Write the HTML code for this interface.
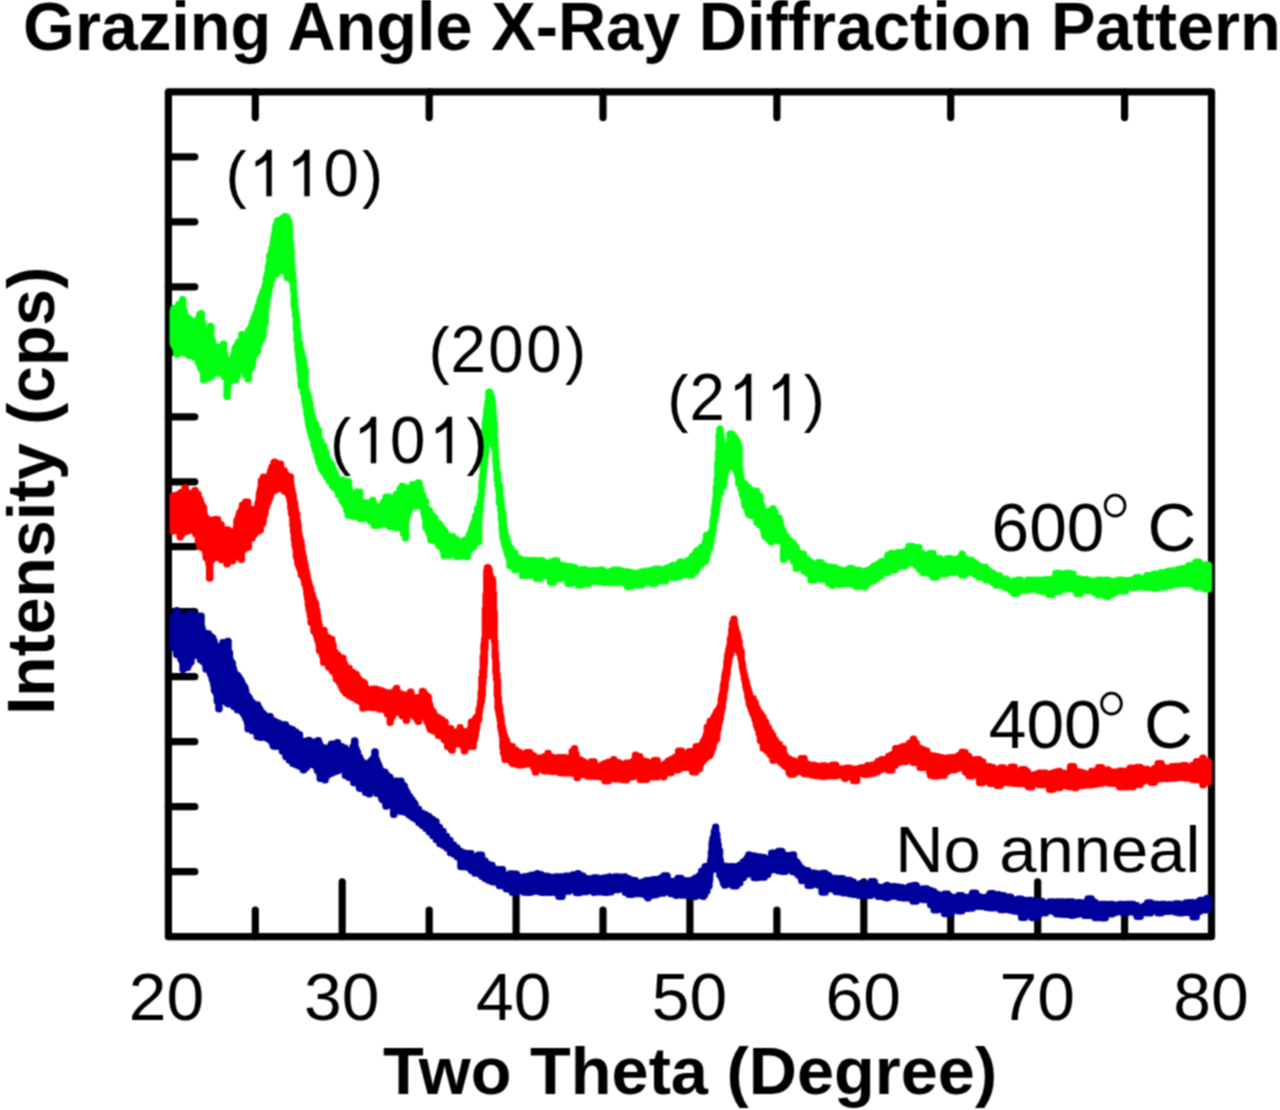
<!DOCTYPE html>
<html><head><meta charset="utf-8">
<style>
html,body{margin:0;padding:0;background:#fff;}
body{width:1280px;height:1110px;overflow:hidden;}
svg{display:block;}
text{font-family:"Liberation Sans",sans-serif;fill:#000;}
</style></head><body>
<svg width="1280" height="1110" viewBox="0 0 1280 1110">
<defs><filter id="bl" x="0" y="0" width="1" height="1" color-interpolation-filters="sRGB"><feConvolveMatrix order="3" kernelMatrix="1 2 1 2 4 2 1 2 1" divisor="16" edgeMode="duplicate"/></filter></defs>
<rect width="1280" height="1110" fill="#fff"/>
<g filter="url(#bl)">
<rect width="1280" height="1110" fill="#fff"/>
<g stroke="#000" stroke-width="7.2" fill="none"><path d="M168.4,91.8H1211.5V936.7H168.4Z" stroke-linejoin="round"/></g><g stroke="#000" stroke-width="7.2" fill="none" stroke-linecap="round"><path d="M168.4,156.8H194.8M168.4,221.8H194.8M168.4,286.8H194.8M168.4,351.8H194.8M168.4,416.8H194.8M168.4,481.8H194.8M168.4,546.7H194.8M168.4,611.7H194.8M168.4,676.7H194.8M168.4,741.7H194.8M168.4,806.7H194.8M168.4,871.7H194.8M255.3,936.7V910.2M255.3,91.8V117.6M342.2,936.7V881.8M429.2,936.7V910.2M429.2,91.8V117.6M516.1,936.7V881.8M603.0,936.7V910.2M603.0,91.8V117.6M689.9,936.7V881.8M776.9,936.7V910.2M776.9,91.8V117.6M863.8,936.7V881.8M950.7,936.7V910.2M950.7,91.8V117.6M1037.7,936.7V881.8M1124.6,936.7V910.2M1124.6,91.8V117.6"/></g><path d="M173.0,617.3 176.5,617.3 176.5,610.6 177.2,610.6 177.2,616.4 177.9,616.4 177.9,615.2 178.6,615.2 178.6,617.5 179.3,617.5 179.3,618.9 180.0,618.9 180.0,619.7 180.7,619.7 180.7,618.6 181.4,618.6 181.4,617.4 182.1,617.4 182.1,617.9 182.8,617.9 182.8,616.6 183.5,616.6 183.5,616.9 184.2,616.9 184.2,620.8 184.9,620.8 184.9,623.2 185.6,623.2 185.6,624.9 186.3,624.9 186.3,620.4 187.0,620.4 187.0,623.9 187.7,623.9 187.7,617.8 188.4,617.8 188.4,619.3 189.1,619.3 189.1,616.8 189.8,616.8 189.8,613.0 190.5,613.0 190.5,616.0 191.2,616.0 191.2,615.3 191.9,615.3 191.9,614.2 192.3,614.2 192.3,614.9 192.6,614.9 192.6,614.9 193.3,614.9 193.3,615.3 194.0,615.3 194.0,618.4 194.7,618.4 194.7,616.3 195.4,616.3 195.4,618.9 196.1,618.9 196.1,616.0 196.8,616.0 196.8,616.0 197.5,616.0 197.5,616.0 198.2,616.0 198.2,616.0 198.9,616.0 198.9,619.1 199.6,619.1 199.6,620.7 200.3,620.7 200.3,625.1 201.0,625.1 201.0,616.0 201.3,616.0 201.3,625.9 201.7,625.9 201.7,628.8 202.4,628.8 202.4,631.3 203.1,631.3 203.1,633.0 203.8,633.0 203.8,632.9 204.5,632.9 204.5,633.1 205.2,633.1 205.2,633.4 205.9,633.4 205.9,633.3 206.6,633.3 206.6,636.1 207.3,636.1 207.3,634.8 208.0,634.8 208.0,633.7 208.7,633.7 208.7,634.8 209.4,634.8 209.4,635.9 210.1,635.9 210.1,638.6 210.8,638.6 210.8,639.4 211.5,639.4 211.5,637.2 212.2,637.2 212.2,637.7 212.9,637.7 212.9,640.0 213.6,640.0 213.6,641.2 214.3,641.2 214.3,646.5 215.0,646.5 215.0,645.8 215.7,645.8 215.7,646.0 216.4,646.0 216.4,649.0 217.1,649.0 217.1,653.2 217.8,653.2 217.8,648.7 218.5,648.7 218.5,648.5 219.2,648.5 219.2,651.2 219.9,651.2 219.9,650.3 220.6,650.3 220.6,649.0 221.3,649.0 221.3,647.2 222.0,647.2 222.0,646.5 222.7,646.5 222.7,642.4 223.4,642.4 223.4,648.8 224.1,648.8 224.1,644.5 224.8,644.5 224.8,644.2 225.5,644.2 225.5,642.4 226.2,642.4 226.2,646.1 226.9,646.1 226.9,651.8 227.6,651.8 227.6,653.5 227.7,653.5 227.7,641.2 228.3,641.2 228.3,657.3 229.0,657.3 229.0,652.7 229.7,652.7 229.7,659.8 230.4,659.8 230.4,662.0 231.1,662.0 231.1,663.5 231.8,663.5 231.8,663.1 232.5,663.1 232.5,667.6 233.2,667.6 233.2,669.8 233.9,669.8 233.9,672.4 234.6,672.4 234.6,674.7 235.3,674.7 235.3,674.9 236.0,674.9 236.0,674.8 236.7,674.8 236.7,675.1 237.4,675.1 237.4,676.2 238.1,676.2 238.1,676.7 238.8,676.7 238.8,679.1 239.5,679.1 239.5,679.1 240.2,679.1 240.2,680.0 240.9,680.0 240.9,681.6 241.6,681.6 241.6,683.2 242.3,683.2 242.3,687.1 243.0,687.1 243.0,685.5 243.7,685.5 243.7,687.6 244.4,687.6 244.4,687.6 245.1,687.6 245.1,690.6 245.8,690.6 245.8,694.5 246.5,694.5 246.5,695.2 247.2,695.2 247.2,695.7 247.9,695.7 247.9,699.4 248.6,699.4 248.6,697.8 249.3,697.8 249.3,699.3 250.0,699.3 250.0,700.7 250.7,700.7 250.7,702.4 251.4,702.4 251.4,702.2 252.1,702.2 252.1,703.1 252.8,703.1 252.8,708.0 256.3,708.0 256.3,705.0 257.0,705.0 257.0,704.7 257.7,704.7 257.7,706.4 258.4,706.4 258.4,708.0 259.1,708.0 259.1,709.1 259.8,709.1 259.8,710.2 260.5,710.2 260.5,712.1 261.2,712.1 261.2,713.0 261.9,713.0 261.9,713.0 262.6,713.0 262.6,713.4 263.3,713.4 263.3,714.3 264.0,714.3 264.0,715.3 264.7,715.3 264.7,716.8 265.4,716.8 265.4,716.0 266.1,716.0 266.1,717.9 266.8,717.9 266.8,719.7 267.5,719.7 267.5,717.5 268.2,717.5 268.2,719.8 268.9,719.8 268.9,718.6 269.6,718.6 269.6,716.6 270.3,716.6 270.3,721.5 271.0,721.5 271.0,721.8 271.7,721.8 271.7,720.3 272.4,720.3 272.4,720.7 273.1,720.7 273.1,720.9 273.8,720.9 273.8,722.7 274.5,722.7 274.5,721.6 275.2,721.6 275.2,723.0 278.7,723.0 278.7,726.6 282.2,726.6 282.2,724.7 285.7,724.7 285.7,728.3 289.2,728.3 289.2,729.4 292.7,729.4 292.7,732.1 296.2,732.1 296.2,734.5 299.7,734.5 299.7,741.2 303.2,741.2 303.2,745.5 303.9,745.5 303.9,743.2 304.6,743.2 304.6,744.3 305.3,744.3 305.3,742.2 306.0,742.2 306.0,742.5 306.7,742.5 306.7,743.8 307.4,743.8 307.4,740.4 308.1,740.4 308.1,741.4 308.8,741.4 308.8,740.3 309.3,740.3 309.3,741.1 309.5,741.1 309.5,742.0 310.2,742.0 310.2,742.1 310.9,742.1 310.9,742.0 314.4,742.0 314.4,742.6 315.1,742.6 315.1,743.4 315.8,743.4 315.8,742.9 316.5,742.9 316.5,742.5 317.2,742.5 317.2,742.1 317.9,742.1 317.9,740.6 318.3,740.6 318.3,740.6 318.6,740.6 318.6,742.8 319.3,742.8 319.3,745.1 320.0,745.1 320.0,745.7 320.7,745.7 320.7,747.8 324.2,747.8 324.2,748.4 327.7,748.4 327.7,748.0 331.2,748.0 331.2,744.0 334.7,744.0 334.7,745.7 337.2,745.7 337.2,742.4 337.8,742.4 337.8,745.7 338.2,745.7 338.2,746.5 341.7,746.5 341.7,748.1 345.2,748.1 345.2,753.3 348.7,753.3 348.7,752.7 352.2,752.7 352.2,748.9 352.9,748.9 352.9,746.6 353.6,746.6 353.6,746.0 354.3,746.0 354.3,746.9 354.4,746.9 354.4,740.8 355.0,740.8 355.0,748.5 355.7,748.5 355.7,748.9 356.4,748.9 356.4,753.7 357.1,753.7 357.1,752.4 357.8,752.4 357.8,757.9 358.5,757.9 358.5,756.8 359.2,756.8 359.2,757.3 359.9,757.3 359.9,759.9 360.6,759.9 360.6,761.3 361.3,761.3 361.3,761.2 362.0,761.2 362.0,765.6 362.7,765.6 362.7,769.0 363.4,769.0 363.4,767.7 364.1,767.7 364.1,767.0 364.8,767.0 364.8,767.2 365.5,767.2 365.5,765.6 366.2,765.6 366.2,765.2 366.9,765.2 366.9,766.8 367.6,766.8 367.6,763.2 368.3,763.2 368.3,763.1 369.0,763.1 369.0,765.8 369.7,765.8 369.7,762.9 370.4,762.9 370.4,762.9 371.1,762.9 371.1,760.4 371.8,760.4 371.8,760.4 372.5,760.4 372.5,760.8 373.2,760.8 373.2,758.6 373.9,758.6 373.9,757.4 374.6,757.4 374.6,756.2 374.7,756.2 374.7,751.8 375.3,751.8 375.3,759.7 376.0,759.7 376.0,759.7 376.7,759.7 376.7,763.0 377.4,763.0 377.4,763.2 378.1,763.2 378.1,765.5 378.8,765.5 378.8,766.7 379.5,766.7 379.5,769.3 380.2,769.3 380.2,770.1 380.9,770.1 380.9,772.8 381.6,772.8 381.6,773.4 382.3,773.4 382.3,773.9 383.0,773.9 383.0,774.8 383.7,774.8 383.7,774.6 384.4,774.6 384.4,772.0 385.1,772.0 385.1,776.4 385.8,776.4 385.8,774.5 386.5,774.5 386.5,777.0 390.0,777.0 390.0,782.6 393.5,782.6 393.5,780.9 397.0,780.9 397.0,782.5 400.5,782.5 400.5,781.0 401.2,781.0 401.2,785.8 401.9,785.8 401.9,784.9 402.6,784.9 402.6,785.5 403.3,785.5 403.3,785.5 404.0,785.5 404.0,786.5 404.7,786.5 404.7,790.3 405.4,790.3 405.4,790.4 406.1,790.4 406.1,794.0 406.8,794.0 406.8,793.0 407.5,793.0 407.5,795.4 408.2,795.4 408.2,795.9 408.9,795.9 408.9,796.3 409.6,796.3 409.6,797.4 410.3,797.4 410.3,800.5 411.0,800.5 411.0,800.2 411.7,800.2 411.7,800.1 412.4,800.1 412.4,802.2 413.1,802.2 413.1,803.7 413.8,803.7 413.8,803.0 414.5,803.0 414.5,803.9 415.2,803.9 415.2,808.9 418.7,808.9 418.7,813.1 422.2,813.1 422.2,814.6 425.7,814.6 425.7,816.5 429.2,816.5 429.2,819.3 432.7,819.3 432.7,821.6 436.2,821.6 436.2,827.3 439.7,827.3 439.7,831.3 443.2,831.3 443.2,836.2 446.7,836.2 446.7,840.3 450.2,840.3 450.2,844.7 453.7,844.7 453.7,847.8 457.2,847.8 457.2,851.3 460.7,851.3 460.7,852.8 464.2,852.8 464.2,854.9 467.7,854.9 467.7,853.4 471.2,853.4 471.2,860.1 474.7,860.1 474.7,858.8 478.2,858.8 478.2,854.9 481.7,854.9 481.7,860.7 485.2,860.7 485.2,864.3 488.7,864.3 488.7,865.2 492.2,865.2 492.2,869.0 495.7,869.0 495.7,870.3 499.2,870.3 499.2,869.4 502.7,869.4 502.7,875.5 506.2,875.5 506.2,876.9 509.7,876.9 509.7,873.8 513.2,873.8 513.2,874.1 516.7,874.1 516.7,878.7 520.2,878.7 520.2,877.3 523.7,877.3 523.7,876.8 527.2,876.8 527.2,876.2 530.7,876.2 530.7,875.3 534.2,875.3 534.2,874.8 537.2,874.8 537.2,873.6 537.7,873.6 537.7,874.6 541.2,874.6 541.2,875.9 544.7,875.9 544.7,876.3 548.2,876.3 548.2,877.3 551.7,877.3 551.7,879.5 555.2,879.5 555.2,876.8 558.7,876.8 558.7,876.8 562.2,876.8 562.2,876.8 565.7,876.8 565.7,876.1 569.2,876.1 569.2,876.3 572.7,876.3 572.7,874.7 576.2,874.7 576.2,874.6 577.7,874.6 577.7,873.6 578.3,873.6 578.3,874.6 579.7,874.6 579.7,875.9 583.2,875.9 583.2,878.5 586.7,878.5 586.7,878.7 590.2,878.7 590.2,881.8 593.7,881.8 593.7,877.8 597.2,877.8 597.2,880.9 600.7,880.9 600.7,878.6 604.2,878.6 604.2,877.8 607.7,877.8 607.7,881.5 609.1,881.5 609.1,876.8 609.7,876.8 609.7,881.5 611.2,881.5 611.2,880.3 614.7,880.3 614.7,876.8 618.2,876.8 618.2,879.7 621.7,879.7 621.7,877.0 624.7,877.0 624.7,876.8 625.2,876.8 625.2,878.6 628.7,878.6 628.7,879.9 632.2,879.9 632.2,880.6 635.7,880.6 635.7,883.8 639.2,883.8 639.2,883.3 642.7,883.3 642.7,881.7 646.2,881.7 646.2,880.5 649.7,880.5 649.7,880.2 653.2,880.2 653.2,879.6 656.7,879.6 656.7,879.9 660.2,879.9 660.2,878.3 661.9,878.3 661.9,878.0 662.5,878.0 662.5,878.3 663.7,878.3 663.7,875.8 667.2,875.8 667.2,880.9 670.7,880.9 670.7,881.5 674.2,881.5 674.2,881.6 677.7,881.6 677.7,878.2 681.2,878.2 681.2,880.5 684.7,880.5 684.7,880.8 688.2,880.8 688.2,881.2 691.7,881.2 691.7,880.0 695.2,880.0 695.2,878.1 698.7,878.1 698.7,876.0 699.4,876.0 699.4,876.4 700.1,876.4 700.1,875.2 700.8,875.2 700.8,875.2 701.5,875.2 701.5,870.9 702.2,870.9 702.2,873.7 702.9,873.7 702.9,872.7 703.6,872.7 703.6,870.8 704.3,870.8 704.3,869.2 705.0,869.2 705.0,866.6 705.7,866.6 705.7,867.2 706.4,867.2 706.4,866.6 707.1,866.6 707.1,866.2 707.8,866.2 707.8,865.9 708.5,865.9 708.5,865.7 709.2,865.7 709.2,865.1 709.9,865.1 709.9,864.6 710.6,864.6 710.6,859.5 711.3,859.5 711.3,851.5 712.0,851.5 712.0,842.6 712.7,842.6 712.7,838.6 713.4,838.6 713.4,837.0 714.1,837.0 714.1,831.7 714.8,831.7 714.8,830.2 715.5,830.2 715.5,827.0 715.8,827.0 715.8,832.5 716.2,832.5 716.2,834.3 716.9,834.3 716.9,840.1 717.6,840.1 717.6,844.2 718.3,844.2 718.3,850.8 719.0,850.8 719.0,850.4 719.7,850.4 719.7,859.9 720.4,859.9 720.4,864.5 721.1,864.5 721.1,865.2 721.8,865.2 721.8,865.6 722.5,865.6 722.5,865.7 723.2,865.7 723.2,865.9 723.9,865.9 723.9,866.4 724.6,866.4 724.6,866.0 725.3,866.0 725.3,866.4 726.0,866.4 726.0,867.7 729.5,867.7 729.5,866.4 733.0,866.4 733.0,867.1 736.5,867.1 736.5,866.6 740.0,866.6 740.0,864.8 743.5,864.8 743.5,861.4 747.0,861.4 747.0,857.9 748.7,857.9 748.7,854.7 749.3,854.7 749.3,857.9 750.5,857.9 750.5,855.7 754.0,855.7 754.0,856.4 757.5,856.4 757.5,857.0 761.0,857.0 761.0,857.6 764.5,857.6 764.5,859.0 768.0,859.0 768.0,859.1 771.5,859.1 771.5,853.0 775.0,853.0 775.0,857.2 778.5,857.2 778.5,851.3 782.0,851.3 782.0,856.7 783.7,856.7 783.7,854.7 784.3,854.7 784.3,856.7 785.5,856.7 785.5,855.5 789.0,855.5 789.0,857.3 792.5,857.3 792.5,854.7 793.2,854.7 793.2,854.7 793.7,854.7 793.7,858.3 793.9,858.3 793.9,859.7 794.6,859.7 794.6,860.7 795.3,860.7 795.3,861.3 796.0,861.3 796.0,861.8 796.7,861.8 796.7,862.6 797.4,862.6 797.4,864.3 798.1,864.3 798.1,864.8 798.8,864.8 798.8,866.7 799.5,866.7 799.5,867.0 800.2,867.0 800.2,867.6 800.9,867.6 800.9,868.5 801.6,868.5 801.6,869.2 802.3,869.2 802.3,869.0 803.0,869.0 803.0,870.2 803.7,870.2 803.7,870.3 804.4,870.3 804.4,870.6 807.9,870.6 807.9,873.6 811.4,873.6 811.4,873.0 814.9,873.0 814.9,873.7 818.4,873.7 818.4,876.4 821.9,876.4 821.9,873.2 825.4,873.2 825.4,875.4 828.9,875.4 828.9,879.2 832.4,879.2 832.4,878.2 835.9,878.2 835.9,879.1 839.4,879.1 839.4,878.4 842.9,878.4 842.9,881.6 846.4,881.6 846.4,880.3 849.9,880.3 849.9,881.8 853.4,881.8 853.4,884.5 856.9,884.5 856.9,884.7 860.4,884.7 860.4,883.6 863.9,883.6 863.9,884.5 867.4,884.5 867.4,886.2 870.9,886.2 870.9,881.6 874.4,881.6 874.4,886.6 877.9,886.6 877.9,887.5 881.4,887.5 881.4,887.4 884.9,887.4 884.9,886.2 886.9,886.2 886.9,885.2 887.5,885.2 887.5,886.2 888.4,886.2 888.4,887.4 891.9,887.4 891.9,886.5 895.4,886.5 895.4,887.1 898.9,887.1 898.9,887.5 902.4,887.5 902.4,888.2 905.9,888.2 905.9,888.5 909.4,888.5 909.4,886.2 912.9,886.2 912.9,885.6 915.0,885.6 915.0,885.2 915.6,885.2 915.6,885.6 916.4,885.6 916.4,888.9 919.9,888.9 919.9,890.5 923.4,890.5 923.4,888.8 926.9,888.8 926.9,890.3 930.4,890.3 930.4,891.4 933.9,891.4 933.9,894.0 937.4,894.0 937.4,895.3 940.9,895.3 940.9,895.8 944.4,895.8 944.4,894.1 947.9,894.1 947.9,896.7 951.4,896.7 951.4,897.6 954.9,897.6 954.9,897.4 958.4,897.4 958.4,895.6 961.9,895.6 961.9,897.3 965.4,897.3 965.4,897.2 968.9,897.2 968.9,899.9 972.4,899.9 972.4,893.0 975.9,893.0 975.9,896.6 979.4,896.6 979.4,898.4 982.9,898.4 982.9,897.4 986.4,897.4 986.4,896.9 989.9,896.9 989.9,893.5 993.4,893.5 993.4,896.6 996.9,896.6 996.9,897.5 998.2,897.5 998.2,894.4 998.8,894.4 998.8,897.5 1000.4,897.5 1000.4,895.6 1003.9,895.6 1003.9,897.0 1007.4,897.0 1007.4,896.9 1010.9,896.9 1010.9,901.4 1014.4,901.4 1014.4,900.1 1017.9,900.1 1017.9,899.1 1021.4,899.1 1021.4,900.3 1024.9,900.3 1024.9,900.9 1028.4,900.9 1028.4,900.2 1031.9,900.2 1031.9,904.1 1035.4,904.1 1035.4,901.5 1038.9,901.5 1038.9,901.2 1042.4,901.2 1042.4,903.5 1045.9,903.5 1045.9,903.8 1049.4,903.8 1049.4,901.8 1052.9,901.8 1052.9,903.3 1056.4,903.3 1056.4,901.8 1059.9,901.8 1059.9,901.8 1063.4,901.8 1063.4,902.2 1066.9,902.2 1066.9,901.8 1070.4,901.8 1070.4,903.2 1072.0,903.2 1072.0,901.8 1072.6,901.8 1072.6,903.2 1073.9,903.2 1073.9,903.3 1077.4,903.3 1077.4,902.6 1080.9,902.6 1080.9,902.9 1084.4,902.9 1084.4,904.5 1087.9,904.5 1087.9,898.8 1091.4,898.8 1091.4,902.0 1094.9,902.0 1094.9,904.2 1098.4,904.2 1098.4,904.2 1101.9,904.2 1101.9,904.2 1105.4,904.2 1105.4,905.2 1108.9,905.2 1108.9,904.2 1112.4,904.2 1112.4,905.1 1115.9,905.1 1115.9,905.8 1119.4,905.8 1119.4,904.2 1122.9,904.2 1122.9,907.8 1126.4,907.8 1126.4,904.2 1129.9,904.2 1129.9,904.2 1133.4,904.2 1133.4,905.6 1136.9,905.6 1136.9,908.0 1140.4,908.0 1140.4,908.6 1143.9,908.6 1143.9,905.9 1147.4,905.9 1147.4,902.7 1150.9,902.7 1150.9,905.1 1154.4,905.1 1154.4,904.2 1157.9,904.2 1157.9,906.0 1161.4,906.0 1161.4,904.2 1164.9,904.2 1164.9,904.7 1168.4,904.7 1168.4,904.5 1171.9,904.5 1171.9,906.3 1175.4,906.3 1175.4,903.7 1178.9,903.7 1178.9,905.9 1182.4,905.9 1182.4,904.2 1185.9,904.2 1185.9,902.8 1189.4,902.8 1189.4,902.4 1192.9,902.4 1192.9,904.9 1196.4,904.9 1196.4,902.5 1199.9,902.5 1199.9,900.2 1203.4,900.2 1203.4,901.9 1206.9,901.9 1206.9,898.3 1208.5,898.3 1208.5,908.0 1206.9,908.0 1206.9,910.1 1203.4,910.1 1203.4,909.8 1199.9,909.8 1199.9,911.6 1196.4,911.6 1196.4,917.0 1195.6,917.0 1195.6,917.0 1195.0,917.0 1195.0,917.0 1192.9,917.0 1192.9,908.1 1189.4,908.1 1189.4,912.5 1185.9,912.5 1185.9,911.2 1182.4,911.2 1182.4,913.0 1178.9,913.0 1178.9,912.2 1175.4,912.2 1175.4,910.7 1171.9,910.7 1171.9,911.3 1168.4,911.3 1168.4,911.4 1164.9,911.4 1164.9,908.6 1161.4,908.6 1161.4,913.0 1157.9,913.0 1157.9,909.8 1154.4,909.8 1154.4,910.5 1150.9,910.5 1150.9,912.9 1147.4,912.9 1147.4,912.7 1143.9,912.7 1143.9,911.9 1140.4,911.9 1140.4,916.5 1136.9,916.5 1136.9,912.2 1133.4,912.2 1133.4,911.9 1129.9,911.9 1129.9,909.7 1126.4,909.7 1126.4,913.0 1122.9,913.0 1122.9,910.4 1119.4,910.4 1119.4,911.8 1115.9,911.8 1115.9,912.6 1112.4,912.6 1112.4,913.9 1108.9,913.9 1108.9,913.0 1105.4,913.0 1105.4,918.0 1101.9,918.0 1101.9,914.1 1098.4,914.1 1098.4,917.8 1097.2,917.8 1097.2,917.8 1096.6,917.8 1096.6,917.8 1094.9,917.8 1094.9,912.8 1091.4,912.8 1091.4,915.4 1087.9,915.4 1087.9,915.4 1084.4,915.4 1084.4,913.7 1080.9,913.7 1080.9,912.6 1077.4,912.6 1077.4,914.6 1073.9,914.6 1073.9,915.2 1072.6,915.2 1072.6,915.4 1072.0,915.4 1072.0,915.2 1070.4,915.2 1070.4,913.4 1066.9,913.4 1066.9,914.5 1063.4,914.5 1063.4,914.2 1059.9,914.2 1059.9,913.9 1056.4,913.9 1056.4,911.6 1052.9,911.6 1052.9,910.4 1049.4,910.4 1049.4,910.5 1045.9,910.5 1045.9,913.0 1042.4,913.0 1042.4,913.0 1038.9,913.0 1038.9,915.1 1035.4,915.1 1035.4,917.8 1031.9,917.8 1031.9,911.6 1028.4,911.6 1028.4,909.0 1024.9,909.0 1024.9,917.5 1023.3,917.5 1023.3,917.5 1022.7,917.5 1022.7,917.5 1021.4,917.5 1021.4,911.6 1017.9,911.6 1017.9,911.2 1014.4,911.2 1014.4,910.5 1010.9,910.5 1010.9,909.8 1007.4,909.8 1007.4,906.5 1003.9,906.5 1003.9,909.7 1000.4,909.7 1000.4,908.0 996.9,908.0 996.9,907.0 993.4,907.0 993.4,908.0 989.9,908.0 989.9,907.5 986.4,907.5 986.4,906.2 982.9,906.2 982.9,906.4 979.4,906.4 979.4,904.2 975.9,904.2 975.9,906.6 972.4,906.6 972.4,908.2 968.9,908.2 968.9,908.5 965.4,908.5 965.4,904.9 961.9,904.9 961.9,911.0 958.4,911.0 958.4,909.6 954.9,909.6 954.9,910.0 951.4,910.0 951.4,913.2 949.5,913.2 949.5,913.2 948.9,913.2 948.9,913.2 947.9,913.2 947.9,913.8 944.4,913.8 944.4,907.9 940.9,907.9 940.9,909.5 937.4,909.5 937.4,910.0 933.9,910.0 933.9,904.7 930.4,904.7 930.4,899.2 926.9,899.2 926.9,899.7 923.4,899.7 923.4,899.1 919.9,899.1 919.9,898.3 916.4,898.3 916.4,901.3 912.9,901.3 912.9,897.4 909.4,897.4 909.4,898.0 905.9,898.0 905.9,898.0 902.4,898.0 902.4,897.4 898.9,897.4 898.9,895.9 895.4,895.9 895.4,896.2 891.9,896.2 891.9,894.7 888.4,894.7 888.4,897.6 887.5,897.6 887.5,898.0 886.9,898.0 886.9,897.6 884.9,897.6 884.9,893.7 881.4,893.7 881.4,896.4 877.9,896.4 877.9,893.2 874.4,893.2 874.4,891.7 870.9,891.7 870.9,895.6 867.4,895.6 867.4,895.6 863.9,895.6 863.9,895.6 860.4,895.6 860.4,894.3 859.3,894.3 859.3,895.6 858.7,895.6 858.7,894.3 856.9,894.3 856.9,894.6 853.4,894.6 853.4,893.9 849.9,893.9 849.9,891.4 846.4,891.4 846.4,892.9 842.9,892.9 842.9,892.0 839.4,892.0 839.4,891.8 835.9,891.8 835.9,889.3 832.4,889.3 832.4,888.4 828.9,888.4 828.9,888.7 825.4,888.7 825.4,892.2 821.9,892.2 821.9,885.3 818.4,885.3 818.4,884.3 814.9,884.3 814.9,881.7 811.4,881.7 811.4,885.6 807.9,885.6 807.9,878.2 804.4,878.2 804.4,877.3 803.7,877.3 803.7,880.3 803.0,880.3 803.0,877.4 802.3,877.4 802.3,880.8 801.6,880.8 801.6,876.8 800.9,876.8 800.9,876.7 800.2,876.7 800.2,874.2 799.5,874.2 799.5,874.8 798.8,874.8 798.8,875.1 798.1,875.1 798.1,873.7 797.4,873.7 797.4,873.0 796.7,873.0 796.7,872.6 796.0,872.6 796.0,872.0 795.3,872.0 795.3,871.1 794.6,871.1 794.6,872.1 793.9,872.1 793.9,871.6 793.2,871.6 793.2,871.7 792.5,871.7 792.5,867.2 789.0,867.2 789.0,869.6 785.5,869.6 785.5,871.6 782.0,871.6 782.0,871.1 778.5,871.1 778.5,869.8 775.0,869.8 775.0,868.7 771.5,868.7 771.5,870.0 768.0,870.0 768.0,874.5 764.5,874.5 764.5,877.2 761.0,877.2 761.0,872.9 760.9,872.9 760.9,874.5 760.3,874.5 760.3,872.9 757.5,872.9 757.5,877.7 754.0,877.7 754.0,873.6 750.5,873.6 750.5,873.8 747.0,873.8 747.0,874.6 743.5,874.6 743.5,877.8 740.0,877.8 740.0,883.1 737.5,883.1 737.5,883.9 736.9,883.9 736.9,883.1 736.5,883.1 736.5,885.9 733.0,885.9 733.0,878.4 729.5,878.4 729.5,883.9 726.0,883.9 726.0,879.2 725.3,879.2 725.3,885.3 724.6,885.3 724.6,880.5 723.9,880.5 723.9,880.9 723.6,880.9 723.6,883.0 723.2,883.0 723.2,879.0 722.5,879.0 722.5,878.7 721.8,878.7 721.8,876.7 721.1,876.7 721.1,871.8 720.4,871.8 720.4,874.9 719.7,874.9 719.7,869.4 719.0,869.4 719.0,869.2 718.3,869.2 718.3,869.0 717.6,869.0 717.6,869.0 716.9,869.0 716.9,867.6 716.2,867.6 716.2,869.0 715.5,869.0 715.5,869.0 714.8,869.0 714.8,868.7 714.1,868.7 714.1,868.2 713.4,868.2 713.4,868.1 712.7,868.1 712.7,869.2 712.0,869.2 712.0,869.1 711.3,869.1 711.3,870.3 710.6,870.3 710.6,871.9 709.9,871.9 709.9,880.1 709.2,880.1 709.2,886.1 708.5,886.1 708.5,885.1 707.8,885.1 707.8,887.6 707.1,887.6 707.1,890.9 706.4,890.9 706.4,890.5 705.7,890.5 705.7,890.7 705.0,890.7 705.0,894.6 704.3,894.6 704.3,890.5 703.6,890.5 703.6,896.4 703.3,896.4 703.3,896.4 702.9,896.4 702.9,891.4 702.2,891.4 702.2,892.0 701.5,892.0 701.5,895.8 700.8,895.8 700.8,891.6 700.1,891.6 700.1,891.0 699.4,891.0 699.4,892.1 698.7,892.1 698.7,891.5 695.2,891.5 695.2,896.8 691.7,896.8 691.7,893.1 688.2,893.1 688.2,891.8 684.7,891.8 684.7,895.3 681.2,895.3 681.2,892.3 677.7,892.3 677.7,892.3 676.5,892.3 676.5,895.6 676.0,895.6 676.0,892.3 674.2,892.3 674.2,893.7 670.7,893.7 670.7,892.0 667.2,892.0 667.2,891.4 663.7,891.4 663.7,893.2 660.2,893.2 660.2,891.7 656.7,891.7 656.7,894.8 653.2,894.8 653.2,895.2 649.7,895.2 649.7,895.8 648.3,895.8 648.3,898.0 647.7,898.0 647.7,895.8 646.2,895.8 646.2,894.3 642.7,894.3 642.7,893.6 639.2,893.6 639.2,893.8 635.7,893.8 635.7,893.1 632.2,893.1 632.2,894.6 628.7,894.6 628.7,892.6 625.2,892.6 625.2,888.8 621.7,888.8 621.7,888.4 618.2,888.4 618.2,889.7 614.7,889.7 614.7,889.8 611.2,889.8 611.2,891.9 607.7,891.9 607.7,892.6 604.2,892.6 604.2,891.2 600.7,891.2 600.7,892.1 597.2,892.1 597.2,892.1 594.0,892.1 594.0,892.6 593.7,892.6 593.7,890.3 590.2,890.3 590.2,890.4 586.7,890.4 586.7,891.7 583.2,891.7 583.2,886.9 579.7,886.9 579.7,892.7 576.2,892.7 576.2,887.2 572.7,887.2 572.7,889.3 569.2,889.3 569.2,891.2 565.7,891.2 565.7,891.5 562.8,891.5 562.8,892.6 562.2,892.6 562.2,891.5 562.2,891.5 562.2,896.6 558.7,896.6 558.7,892.6 555.2,892.6 555.2,890.2 551.7,890.2 551.7,892.6 548.2,892.6 548.2,886.3 544.7,886.3 544.7,892.6 541.2,892.6 541.2,891.3 537.7,891.3 537.7,891.3 534.2,891.3 534.2,890.0 530.7,890.0 530.7,892.6 527.2,892.6 527.2,892.2 523.7,892.2 523.7,890.4 520.2,890.4 520.2,889.8 516.7,889.8 516.7,892.6 513.2,892.6 513.2,889.4 512.8,889.4 512.8,892.6 512.2,892.6 512.2,889.4 509.7,889.4 509.7,888.9 506.2,888.9 506.2,884.3 502.7,884.3 502.7,885.8 499.2,885.8 499.2,881.8 495.7,881.8 495.7,882.0 492.2,882.0 492.2,880.4 488.7,880.4 488.7,878.7 485.2,878.7 485.2,876.5 481.7,876.5 481.7,873.4 478.2,873.4 478.2,873.2 474.7,873.2 474.7,870.6 471.2,870.6 471.2,867.4 467.7,867.4 467.7,865.2 464.2,865.2 464.2,866.7 460.7,866.7 460.7,856.9 457.2,856.9 457.2,854.2 453.7,854.2 453.7,852.7 450.2,852.7 450.2,848.1 446.7,848.1 446.7,845.6 443.2,845.6 443.2,843.7 439.7,843.7 439.7,839.7 436.2,839.7 436.2,835.8 432.7,835.8 432.7,832.1 429.2,832.1 429.2,828.4 425.7,828.4 425.7,825.4 422.2,825.4 422.2,822.8 418.7,822.8 418.7,819.0 415.2,819.0 415.2,818.2 414.5,818.2 414.5,817.8 413.8,817.8 413.8,817.7 413.1,817.7 413.1,816.8 412.4,816.8 412.4,816.7 411.7,816.7 411.7,815.7 411.0,815.7 411.0,815.7 410.3,815.7 410.3,814.1 409.6,814.1 409.6,814.7 408.9,814.7 408.9,813.2 408.2,813.2 408.2,813.3 407.5,813.3 407.5,812.8 406.8,812.8 406.8,811.5 406.1,811.5 406.1,812.5 405.4,812.5 405.4,812.1 404.7,812.1 404.7,811.5 404.0,811.5 404.0,811.4 403.3,811.4 403.3,810.5 402.6,810.5 402.6,811.2 401.9,811.2 401.9,811.0 401.2,811.0 401.2,811.4 400.5,811.4 400.5,808.8 397.0,808.8 397.0,809.7 394.1,809.7 394.1,814.5 393.5,814.5 393.5,805.0 390.0,805.0 390.0,800.9 386.5,800.9 386.5,806.2 385.8,806.2 385.8,798.8 385.1,798.8 385.1,798.1 384.4,798.1 384.4,799.0 383.7,799.0 383.7,800.3 383.0,800.3 383.0,796.5 382.3,796.5 382.3,798.7 381.6,798.7 381.6,795.3 380.9,795.3 380.9,794.8 380.2,794.8 380.2,790.5 379.5,790.5 379.5,792.5 378.8,792.5 378.8,791.9 378.1,791.9 378.1,790.7 377.4,790.7 377.4,793.6 376.7,793.6 376.7,787.5 376.0,787.5 376.0,789.5 375.3,789.5 375.3,789.2 374.6,789.2 374.6,788.0 373.9,788.0 373.9,789.8 373.2,789.8 373.2,790.0 372.5,790.0 372.5,789.3 371.8,789.3 371.8,789.8 371.1,789.8 371.1,789.0 370.4,789.0 370.4,791.0 369.7,791.0 369.7,793.9 369.0,793.9 369.0,790.0 368.3,790.0 368.3,790.7 367.6,790.7 367.6,790.6 366.9,790.6 366.9,791.7 366.2,791.7 366.2,788.5 365.9,788.5 365.9,792.6 365.5,792.6 365.5,789.4 364.8,789.4 364.8,789.5 364.1,789.5 364.1,787.4 363.4,787.4 363.4,788.0 362.7,788.0 362.7,786.1 362.0,786.1 362.0,786.3 361.3,786.3 361.3,784.1 360.6,784.1 360.6,788.6 359.9,788.6 359.9,787.9 359.2,787.9 359.2,782.8 358.5,782.8 358.5,782.3 357.8,782.3 357.8,781.7 357.1,781.7 357.1,780.7 356.4,780.7 356.4,779.4 355.7,779.4 355.7,777.9 355.0,777.9 355.0,779.7 354.3,779.7 354.3,782.7 353.6,782.7 353.6,776.6 352.9,776.6 352.9,776.5 352.2,776.5 352.2,777.6 348.7,777.6 348.7,775.5 345.2,775.5 345.2,769.0 341.7,769.0 341.7,768.5 338.2,768.5 338.2,770.8 334.7,770.8 334.7,772.0 331.2,772.0 331.2,773.4 327.7,773.4 327.7,775.6 325.3,775.6 325.3,780.0 324.7,780.0 324.7,775.6 324.2,775.6 324.2,774.8 320.7,774.8 320.7,778.4 320.0,778.4 320.0,773.3 319.3,773.3 319.3,771.5 318.6,771.5 318.6,768.3 317.9,768.3 317.9,770.5 317.2,770.5 317.2,766.8 316.5,766.8 316.5,766.4 315.8,766.4 315.8,765.9 315.1,765.9 315.1,765.1 314.4,765.1 314.4,759.2 310.9,759.2 310.9,764.4 310.2,764.4 310.2,760.8 309.5,760.8 309.5,760.7 308.8,760.7 308.8,761.4 308.1,761.4 308.1,762.8 307.4,762.8 307.4,760.9 306.7,760.9 306.7,760.5 306.6,760.5 306.6,767.6 306.0,767.6 306.0,762.9 305.3,762.9 305.3,765.0 304.6,765.0 304.6,765.3 303.9,765.3 303.9,770.1 303.2,770.1 303.2,766.4 299.7,766.4 299.7,765.0 296.2,765.0 296.2,763.5 292.7,763.5 292.7,760.3 289.2,760.3 289.2,756.7 285.7,756.7 285.7,751.2 282.2,751.2 282.2,746.5 278.7,746.5 278.7,745.6 275.2,745.6 275.2,746.6 274.5,746.6 274.5,744.6 273.8,744.6 273.8,746.0 273.1,746.0 273.1,740.6 272.4,740.6 272.4,742.2 271.7,742.2 271.7,740.7 271.0,740.7 271.0,738.9 270.3,738.9 270.3,739.8 269.6,739.8 269.6,739.2 268.9,739.2 268.9,738.1 268.2,738.1 268.2,738.1 267.5,738.1 267.5,737.6 266.8,737.6 266.8,737.9 266.1,737.9 266.1,737.4 265.4,737.4 265.4,736.9 264.7,736.9 264.7,736.6 264.0,736.6 264.0,736.5 263.3,736.5 263.3,736.5 262.6,736.5 262.6,734.8 261.9,734.8 261.9,736.4 261.2,736.4 261.2,737.4 260.5,737.4 260.5,733.8 259.8,733.8 259.8,731.9 259.1,731.9 259.1,737.1 258.4,737.1 258.4,733.7 257.7,733.7 257.7,736.6 257.0,736.6 257.0,732.4 256.3,732.4 256.3,727.5 252.8,727.5 252.8,730.7 252.1,730.7 252.1,729.8 251.4,729.8 251.4,727.6 250.7,727.6 250.7,727.6 250.0,727.6 250.0,726.8 249.3,726.8 249.3,724.1 248.6,724.1 248.6,728.9 247.9,728.9 247.9,722.5 247.2,722.5 247.2,718.6 246.5,718.6 246.5,718.8 245.8,718.8 245.8,716.5 245.1,716.5 245.1,714.4 244.4,714.4 244.4,714.5 243.7,714.5 243.7,711.5 243.0,711.5 243.0,712.3 242.3,712.3 242.3,710.2 241.6,710.2 241.6,708.9 240.9,708.9 240.9,710.1 240.2,710.1 240.2,709.3 239.5,709.3 239.5,708.7 238.8,708.7 238.8,707.1 238.1,707.1 238.1,709.9 237.4,709.9 237.4,704.1 236.7,704.1 236.7,703.8 236.0,703.8 236.0,703.2 235.3,703.2 235.3,703.9 234.6,703.9 234.6,706.8 233.9,706.8 233.9,702.4 233.2,702.4 233.2,700.6 232.5,700.6 232.5,700.3 231.8,700.3 231.8,701.4 231.1,701.4 231.1,699.6 230.4,699.6 230.4,699.6 229.7,699.6 229.7,699.6 229.0,699.6 229.0,703.9 228.3,703.9 228.3,696.9 227.6,696.9 227.6,703.3 226.9,703.3 226.9,700.0 226.2,700.0 226.2,701.4 225.5,701.4 225.5,697.7 224.8,697.7 224.8,697.4 224.1,697.4 224.1,697.0 223.4,697.0 223.4,696.7 222.7,696.7 222.7,694.7 222.0,694.7 222.0,695.5 221.3,695.5 221.3,697.8 220.6,697.8 220.6,696.8 219.9,696.8 219.9,698.6 219.2,698.6 219.2,709.0 218.7,709.0 218.7,701.3 218.5,701.3 218.5,697.3 217.8,697.3 217.8,701.2 217.1,701.2 217.1,693.7 216.4,693.7 216.4,692.1 215.7,692.1 215.7,688.5 215.0,688.5 215.0,690.6 214.3,690.6 214.3,685.1 213.6,685.1 213.6,680.5 212.9,680.5 212.9,679.8 212.2,679.8 212.2,676.7 211.5,676.7 211.5,674.3 210.8,674.3 210.8,673.5 210.1,673.5 210.1,670.1 209.4,670.1 209.4,667.7 208.7,667.7 208.7,665.8 208.0,665.8 208.0,665.0 207.3,665.0 207.3,664.9 206.6,664.9 206.6,669.2 205.9,669.2 205.9,662.9 205.2,662.9 205.2,663.1 204.5,663.1 204.5,661.6 203.8,661.6 203.8,661.4 203.1,661.4 203.1,661.3 202.4,661.3 202.4,659.5 201.7,659.5 201.7,656.3 201.0,656.3 201.0,659.7 200.3,659.7 200.3,654.9 199.6,654.9 199.6,653.6 198.9,653.6 198.9,651.6 198.2,651.6 198.2,652.7 197.5,652.7 197.5,652.6 196.8,652.6 196.8,653.7 196.1,653.7 196.1,650.7 195.4,650.7 195.4,651.9 194.7,651.9 194.7,655.5 194.0,655.5 194.0,651.2 193.3,651.2 193.3,654.5 192.6,654.5 192.6,653.5 191.9,653.5 191.9,650.2 191.2,650.2 191.2,662.1 190.5,662.1 190.5,660.3 189.8,660.3 189.8,654.4 189.1,654.4 189.1,664.7 188.4,664.7 188.4,660.4 187.7,660.4 187.7,667.5 187.0,667.5 187.0,658.0 186.3,658.0 186.3,665.7 185.6,665.7 185.6,665.4 184.9,665.4 184.9,668.0 184.2,668.0 184.2,663.3 183.5,663.3 183.5,662.2 183.3,662.2 183.3,669.5 182.8,669.5 182.8,661.4 182.1,661.4 182.1,660.3 181.4,660.3 181.4,659.0 180.7,659.0 180.7,654.8 180.0,654.8 180.0,653.8 179.3,653.8 179.3,655.4 178.6,655.4 178.6,653.9 177.9,653.9 177.9,649.5 177.2,649.5 177.2,654.6 176.5,654.6 176.5,647.8 173.0,647.8Z" fill="#00009b" stroke="#00009b" stroke-width="7.0" stroke-linejoin="round"/>
<path d="M173.0,495.7 173.7,495.7 173.7,497.1 174.4,497.1 174.4,496.6 175.1,496.6 175.1,496.0 175.8,496.0 175.8,495.7 176.5,495.7 176.5,495.4 177.2,495.4 177.2,494.8 177.9,494.8 177.9,495.4 178.6,495.4 178.6,495.8 179.3,495.8 179.3,496.3 180.0,496.3 180.0,497.9 180.7,497.9 180.7,492.5 181.4,492.5 181.4,494.4 182.1,494.4 182.1,497.4 184.9,497.4 184.9,487.7 185.5,487.7 185.5,497.4 185.6,497.4 185.6,497.1 189.1,497.1 189.1,493.2 192.6,493.2 192.6,493.8 193.3,493.8 193.3,494.3 194.0,494.3 194.0,494.4 194.7,494.4 194.7,490.4 195.4,490.4 195.4,496.7 196.1,496.7 196.1,496.1 196.8,496.1 196.8,497.6 197.5,497.6 197.5,494.2 198.2,494.2 198.2,497.5 198.9,497.5 198.9,499.7 199.6,499.7 199.6,499.7 200.3,499.7 200.3,502.4 201.0,502.4 201.0,503.9 201.7,503.9 201.7,505.9 202.4,505.9 202.4,510.0 203.1,510.0 203.1,507.4 203.8,507.4 203.8,515.0 204.5,515.0 204.5,517.3 205.2,517.3 205.2,517.3 205.9,517.3 205.9,519.6 206.6,519.6 206.6,519.4 207.3,519.4 207.3,520.8 208.0,520.8 208.0,520.7 208.7,520.7 208.7,519.8 209.4,519.8 209.4,522.7 210.1,522.7 210.1,522.0 210.8,522.0 210.8,522.0 211.5,522.0 211.5,523.5 212.2,523.5 212.2,522.3 212.9,522.3 212.9,522.8 213.6,522.8 213.6,522.5 214.3,522.5 214.3,519.5 217.8,519.5 217.8,524.6 221.3,524.6 221.3,532.5 224.8,532.5 224.8,529.8 228.3,529.8 228.3,533.5 231.8,533.5 231.8,532.7 232.5,532.7 232.5,532.6 233.2,532.6 233.2,532.7 233.9,532.7 233.9,532.1 234.6,532.1 234.6,531.1 235.3,531.1 235.3,530.6 236.0,530.6 236.0,528.7 236.7,528.7 236.7,520.8 237.4,520.8 237.4,519.3 238.1,519.3 238.1,518.4 238.8,518.4 238.8,515.3 239.5,515.3 239.5,512.6 240.2,512.6 240.2,512.1 240.9,512.1 240.9,511.2 241.6,511.2 241.6,509.1 242.3,509.1 242.3,505.1 243.0,505.1 243.0,509.7 243.7,509.7 243.7,506.5 244.4,506.5 244.4,508.3 245.1,508.3 245.1,505.7 245.4,505.7 245.4,502.1 245.8,502.1 245.8,505.3 246.5,505.3 246.5,508.7 247.2,508.7 247.2,501.9 247.9,501.9 247.9,507.6 248.6,507.6 248.6,510.8 252.1,510.8 252.1,510.8 252.8,510.8 252.8,510.5 253.5,510.5 253.5,509.5 254.2,509.5 254.2,511.1 254.9,511.1 254.9,510.4 255.6,510.4 255.6,510.2 256.3,510.2 256.3,509.6 257.0,509.6 257.0,509.2 257.7,509.2 257.7,504.0 258.4,504.0 258.4,501.6 259.1,501.6 259.1,494.5 259.8,494.5 259.8,491.3 260.5,491.3 260.5,488.2 261.2,488.2 261.2,480.4 261.9,480.4 261.9,482.5 262.6,482.5 262.6,481.6 263.3,481.6 263.3,476.9 264.0,476.9 264.0,478.2 264.7,478.2 264.7,480.8 265.4,480.8 265.4,480.7 266.1,480.7 266.1,481.1 266.8,481.1 266.8,480.2 267.5,480.2 267.5,480.3 268.2,480.3 268.2,478.8 268.9,478.8 268.9,477.1 269.6,477.1 269.6,474.6 270.3,474.6 270.3,471.7 271.0,471.7 271.0,469.8 271.7,469.8 271.7,467.2 272.4,467.2 272.4,466.6 273.1,466.6 273.1,465.9 273.8,465.9 273.8,462.5 274.5,462.5 274.5,462.0 274.9,462.0 274.9,462.5 275.2,462.5 275.2,463.3 275.9,463.3 275.9,463.0 276.6,463.0 276.6,463.4 277.3,463.4 277.3,463.9 280.8,463.9 280.8,470.5 284.3,470.5 284.3,472.9 285.0,472.9 285.0,473.6 285.7,473.6 285.7,474.6 286.4,474.6 286.4,476.3 287.1,476.3 287.1,477.2 287.8,477.2 287.8,478.5 288.5,478.5 288.5,479.4 289.2,479.4 289.2,477.3 289.9,477.3 289.9,476.7 290.6,476.7 290.6,485.1 291.3,485.1 291.3,489.6 292.0,489.6 292.0,493.0 292.7,493.0 292.7,495.4 293.4,495.4 293.4,500.8 294.1,500.8 294.1,503.1 294.8,503.1 294.8,508.7 295.5,508.7 295.5,513.0 296.2,513.0 296.2,513.9 296.9,513.9 296.9,521.1 297.6,521.1 297.6,524.8 298.3,524.8 298.3,532.8 299.0,532.8 299.0,537.2 299.7,537.2 299.7,540.0 300.4,540.0 300.4,540.9 301.1,540.9 301.1,545.7 301.8,545.7 301.8,552.5 302.5,552.5 302.5,555.5 303.2,555.5 303.2,557.9 303.9,557.9 303.9,562.5 304.6,562.5 304.6,565.0 305.3,565.0 305.3,570.1 306.0,570.1 306.0,572.5 306.7,572.5 306.7,575.4 307.4,575.4 307.4,580.1 308.1,580.1 308.1,582.2 308.8,582.2 308.8,585.3 309.5,585.3 309.5,587.0 310.2,587.0 310.2,588.6 310.9,588.6 310.9,592.6 311.6,592.6 311.6,594.2 312.3,594.2 312.3,597.2 313.0,597.2 313.0,599.1 313.7,599.1 313.7,600.8 314.4,600.8 314.4,603.2 315.1,603.2 315.1,603.3 315.8,603.3 315.8,609.3 316.5,609.3 316.5,612.0 317.2,612.0 317.2,615.5 317.9,615.5 317.9,621.8 318.6,621.8 318.6,625.0 319.3,625.0 319.3,629.6 320.0,629.6 320.0,630.1 320.7,630.1 320.7,630.4 321.4,630.4 321.4,631.7 322.1,631.7 322.1,632.2 322.8,632.2 322.8,633.4 323.5,633.4 323.5,630.2 324.2,630.2 324.2,633.9 324.9,633.9 324.9,637.4 328.4,637.4 328.4,639.3 331.9,639.3 331.9,647.9 332.6,647.9 332.6,644.9 333.3,644.9 333.3,651.6 334.0,651.6 334.0,651.7 334.7,651.7 334.7,652.2 335.4,652.2 335.4,656.3 336.1,656.3 336.1,655.6 336.8,655.6 336.8,657.5 337.5,657.5 337.5,655.1 338.2,655.1 338.2,659.0 338.9,659.0 338.9,658.7 339.6,658.7 339.6,658.9 340.3,658.9 340.3,659.8 341.0,659.8 341.0,660.2 341.7,660.2 341.7,662.2 342.4,662.2 342.4,658.1 343.1,658.1 343.1,662.5 343.8,662.5 343.8,663.6 344.5,663.6 344.5,664.9 345.2,664.9 345.2,666.9 345.9,666.9 345.9,668.2 349.4,668.2 349.4,672.3 352.9,672.3 352.9,674.2 356.4,674.2 356.4,677.7 357.1,677.7 357.1,677.3 357.8,677.3 357.8,678.9 358.5,678.9 358.5,681.6 359.2,681.6 359.2,680.1 359.9,680.1 359.9,681.8 360.6,681.8 360.6,682.3 361.3,682.3 361.3,683.5 362.0,683.5 362.0,684.1 362.7,684.1 362.7,681.9 363.4,681.9 363.4,685.9 364.1,685.9 364.1,683.2 364.8,683.2 364.8,686.7 365.5,686.7 365.5,689.5 369.0,689.5 369.0,692.2 372.5,692.2 372.5,689.1 376.0,689.1 376.0,689.0 376.3,689.0 376.3,690.1 379.5,690.1 379.5,691.1 383.0,691.1 383.0,693.4 386.5,693.4 386.5,692.9 387.2,692.9 387.2,692.7 387.9,692.7 387.9,693.2 388.6,693.2 388.6,693.5 389.3,693.5 389.3,695.3 390.0,695.3 390.0,694.4 390.7,694.4 390.7,694.0 391.4,694.0 391.4,693.7 392.1,693.7 392.1,692.4 392.8,692.4 392.8,693.7 393.5,693.7 393.5,692.6 394.2,692.6 394.2,693.4 394.9,693.4 394.9,690.9 395.6,690.9 395.6,689.6 396.3,689.6 396.3,691.0 396.3,691.0 396.3,688.2 396.9,688.2 396.9,691.0 397.0,691.0 397.0,691.9 397.7,691.9 397.7,692.6 398.4,692.6 398.4,693.9 401.9,693.9 401.9,695.9 405.4,695.9 405.4,696.0 406.1,696.0 406.1,694.9 406.8,694.9 406.8,696.1 407.5,696.1 407.5,696.2 408.2,696.2 408.2,696.2 408.9,696.2 408.9,697.5 409.6,697.5 409.6,695.8 410.0,695.8 410.0,697.0 410.3,697.0 410.3,692.1 411.0,692.1 411.0,697.4 411.7,697.4 411.7,697.1 412.4,697.1 412.4,697.3 413.1,697.3 413.1,698.5 413.8,698.5 413.8,697.7 414.5,697.7 414.5,698.0 415.2,698.0 415.2,698.2 415.9,698.2 415.9,698.1 416.6,698.1 416.6,698.3 417.3,698.3 417.3,697.5 418.0,697.5 418.0,697.8 418.7,697.8 418.7,699.0 422.2,699.0 422.2,691.2 422.9,691.2 422.9,694.7 423.6,694.7 423.6,693.9 423.6,693.9 423.6,692.5 424.2,692.5 424.2,693.9 424.3,693.9 424.3,694.5 425.0,694.5 425.0,695.0 425.7,695.0 425.7,695.3 426.4,695.3 426.4,698.5 427.1,698.5 427.1,699.2 427.8,699.2 427.8,696.9 428.5,696.9 428.5,703.0 429.2,703.0 429.2,704.2 429.9,704.2 429.9,707.8 430.6,707.8 430.6,710.4 431.3,710.4 431.3,710.6 432.0,710.6 432.0,710.9 432.7,710.9 432.7,712.3 433.4,712.3 433.4,713.7 434.1,713.7 434.1,715.3 434.8,715.3 434.8,717.0 435.5,717.0 435.5,717.6 436.2,717.6 436.2,718.7 436.9,718.7 436.9,719.4 437.6,719.4 437.6,717.2 438.3,717.2 438.3,720.3 439.0,720.3 439.0,720.6 439.7,720.6 439.7,722.0 440.4,722.0 440.4,722.5 441.1,722.5 441.1,719.5 441.8,719.5 441.8,722.6 442.5,722.6 442.5,724.0 443.2,724.0 443.2,723.9 443.9,723.9 443.9,722.8 444.6,722.8 444.6,722.0 445.3,722.0 445.3,727.2 446.0,727.2 446.0,729.2 446.7,729.2 446.7,729.2 447.4,729.2 447.4,730.6 448.1,730.6 448.1,731.3 448.8,731.3 448.8,732.9 449.5,732.9 449.5,732.8 450.2,732.8 450.2,728.4 450.9,728.4 450.9,732.9 451.6,732.9 451.6,733.5 452.3,733.5 452.3,732.7 453.0,732.7 453.0,732.4 456.5,732.4 456.5,731.8 460.0,731.8 460.0,727.5 460.3,727.5 460.3,731.3 463.5,731.3 463.5,731.7 464.2,731.7 464.2,732.1 464.9,732.1 464.9,732.9 465.6,732.9 465.6,733.1 466.3,733.1 466.3,732.9 467.0,732.9 467.0,731.4 467.7,731.4 467.7,732.5 468.4,732.5 468.4,732.4 469.1,732.4 469.1,731.0 469.8,731.0 469.8,729.4 470.5,729.4 470.5,728.5 471.2,728.5 471.2,722.0 471.9,722.0 471.9,724.4 472.6,724.4 472.6,724.8 473.3,724.8 473.3,721.9 474.0,721.9 474.0,721.2 474.7,721.2 474.7,719.7 475.4,719.7 475.4,718.7 476.1,718.7 476.1,717.5 476.8,717.5 476.8,717.0 477.5,717.0 477.5,716.3 478.2,716.3 478.2,715.1 478.9,715.1 478.9,709.6 479.6,709.6 479.6,707.4 480.3,707.4 480.3,701.7 481.0,701.7 481.0,692.0 481.7,692.0 481.7,677.9 482.4,677.9 482.4,671.1 483.1,671.1 483.1,656.2 483.8,656.2 483.8,644.7 484.5,644.7 484.5,638.8 485.2,638.8 485.2,609.0 485.9,609.0 485.9,594.3 486.6,594.3 486.6,571.0 487.3,571.0 487.3,567.4 488.0,567.4 488.0,567.9 488.7,567.9 488.7,570.3 489.4,570.3 489.4,574.8 490.1,574.8 490.1,576.8 490.8,576.8 490.8,580.9 491.5,580.9 491.5,578.8 492.2,578.8 492.2,581.1 492.9,581.1 492.9,592.8 493.6,592.8 493.6,612.0 494.3,612.0 494.3,641.5 495.0,641.5 495.0,653.2 495.7,653.2 495.7,663.0 496.4,663.0 496.4,674.3 497.1,674.3 497.1,680.0 497.8,680.0 497.8,697.8 498.5,697.8 498.5,704.9 499.2,704.9 499.2,708.3 499.9,708.3 499.9,715.0 500.6,715.0 500.6,718.3 501.3,718.3 501.3,725.0 502.0,725.0 502.0,728.3 502.7,728.3 502.7,731.3 503.4,731.3 503.4,734.4 504.1,734.4 504.1,736.1 504.8,736.1 504.8,738.7 505.5,738.7 505.5,739.9 506.2,739.9 506.2,741.1 506.9,741.1 506.9,743.8 507.6,743.8 507.6,744.8 508.3,744.8 508.3,746.2 509.0,746.2 509.0,745.9 509.7,745.9 509.7,746.0 510.4,746.0 510.4,748.0 511.1,748.0 511.1,746.4 511.8,746.4 511.8,746.5 512.5,746.5 512.5,749.9 516.0,749.9 516.0,752.3 519.5,752.3 519.5,755.0 523.0,755.0 523.0,753.9 526.5,753.9 526.5,752.6 530.0,752.6 530.0,755.5 533.5,755.5 533.5,758.1 537.0,758.1 537.0,757.9 540.5,757.9 540.5,757.7 544.0,757.7 544.0,756.7 547.5,756.7 547.5,756.6 547.8,756.6 547.8,753.3 548.4,753.3 548.4,756.6 551.0,756.6 551.0,757.8 554.5,757.8 554.5,757.7 558.0,757.7 558.0,757.4 561.5,757.4 561.5,757.4 565.0,757.4 565.0,758.0 568.5,758.0 568.5,758.0 572.0,758.0 572.0,751.4 572.7,751.4 572.7,754.2 573.4,754.2 573.4,754.3 574.1,754.3 574.1,754.5 574.4,754.5 574.4,748.6 574.8,748.6 574.8,757.7 575.5,757.7 575.5,754.1 576.2,754.1 576.2,759.2 576.9,759.2 576.9,759.4 577.6,759.4 577.6,759.5 578.3,759.5 578.3,759.9 579.0,759.9 579.0,759.5 579.7,759.5 579.7,759.7 580.4,759.7 580.4,761.5 583.9,761.5 583.9,764.4 587.4,764.4 587.4,764.8 590.9,764.8 590.9,761.7 594.4,761.7 594.4,770.0 597.9,770.0 597.9,767.0 601.4,767.0 601.4,765.0 604.9,765.0 604.9,763.2 608.4,763.2 608.4,761.9 611.9,761.9 611.9,761.5 613.5,761.5 613.5,759.6 614.0,759.6 614.0,761.5 615.4,761.5 615.4,762.6 618.9,762.6 618.9,764.2 622.4,764.2 622.4,767.9 625.9,767.9 625.9,763.0 629.4,763.0 629.4,764.3 632.9,764.3 632.9,761.2 635.3,761.2 635.3,754.9 635.9,754.9 635.9,761.2 636.4,761.2 636.4,756.6 639.9,756.6 639.9,760.4 643.4,760.4 643.4,761.6 646.9,761.6 646.9,762.9 650.4,762.9 650.4,763.6 653.9,763.6 653.9,760.4 657.4,760.4 657.4,765.8 660.9,765.8 660.9,766.9 664.4,766.9 664.4,763.9 667.9,763.9 667.9,761.1 671.4,761.1 671.4,759.3 674.9,759.3 674.9,757.2 678.4,757.2 678.4,751.1 681.9,751.1 681.9,755.2 685.4,755.2 685.4,754.9 688.9,754.9 688.9,751.5 692.4,751.5 692.4,753.4 695.9,753.4 695.9,746.5 699.4,746.5 699.4,746.8 700.1,746.8 700.1,746.0 700.8,746.0 700.8,745.5 701.5,745.5 701.5,746.2 702.2,746.2 702.2,743.6 702.9,743.6 702.9,742.3 703.6,742.3 703.6,740.5 704.3,740.5 704.3,739.7 705.0,739.7 705.0,738.5 705.7,738.5 705.7,736.2 706.4,736.2 706.4,734.0 707.1,734.0 707.1,727.1 707.8,727.1 707.8,730.9 708.5,730.9 708.5,730.1 709.2,730.1 709.2,727.4 709.9,727.4 709.9,721.3 710.6,721.3 710.6,724.7 711.3,724.7 711.3,723.4 712.0,723.4 712.0,720.3 712.7,720.3 712.7,719.2 713.4,719.2 713.4,718.5 714.1,718.5 714.1,716.5 714.8,716.5 714.8,715.7 715.5,715.7 715.5,714.2 716.2,714.2 716.2,712.6 716.9,712.6 716.9,711.8 717.6,711.8 717.6,710.3 718.3,710.3 718.3,709.5 719.0,709.5 719.0,708.9 719.7,708.9 719.7,707.1 720.4,707.1 720.4,705.5 721.1,705.5 721.1,699.0 721.8,699.0 721.8,695.4 722.5,695.4 722.5,692.5 723.2,692.5 723.2,685.5 723.9,685.5 723.9,682.3 724.6,682.3 724.6,676.0 725.3,676.0 725.3,672.4 726.0,672.4 726.0,669.2 726.7,669.2 726.7,662.0 727.4,662.0 727.4,655.6 728.1,655.6 728.1,652.4 728.8,652.4 728.8,649.0 729.5,649.0 729.5,645.9 730.2,645.9 730.2,639.2 730.9,639.2 730.9,636.4 731.6,636.4 731.6,629.6 732.3,629.6 732.3,623.2 733.0,623.2 733.0,624.5 733.7,624.5 733.7,622.0 733.7,622.0 733.7,619.0 734.3,619.0 734.3,622.0 734.4,622.0 734.4,625.8 735.1,625.8 735.1,628.3 735.8,628.3 735.8,631.5 736.5,631.5 736.5,633.3 737.2,633.3 737.2,635.2 737.9,635.2 737.9,639.3 738.6,639.3 738.6,641.4 739.3,641.4 739.3,648.1 740.0,648.1 740.0,651.4 740.7,651.4 740.7,651.4 741.4,651.4 741.4,661.2 742.1,661.2 742.1,664.9 742.8,664.9 742.8,670.7 743.5,670.7 743.5,673.4 744.2,673.4 744.2,675.9 744.9,675.9 744.9,679.6 745.6,679.6 745.6,681.4 746.3,681.4 746.3,685.0 747.0,685.0 747.0,687.0 747.7,687.0 747.7,689.0 748.4,689.0 748.4,692.1 749.1,692.1 749.1,694.1 749.8,694.1 749.8,697.7 750.5,697.7 750.5,698.2 751.2,698.2 751.2,699.8 751.9,699.8 751.9,702.4 752.6,702.4 752.6,698.4 753.3,698.4 753.3,704.7 754.0,704.7 754.0,704.9 754.7,704.9 754.7,702.5 755.4,702.5 755.4,707.1 756.1,707.1 756.1,707.6 756.8,707.6 756.8,708.8 757.5,708.8 757.5,710.2 758.2,710.2 758.2,711.9 758.9,711.9 758.9,712.2 759.6,712.2 759.6,713.9 760.3,713.9 760.3,713.9 761.0,713.9 761.0,715.5 761.7,715.5 761.7,716.7 762.4,716.7 762.4,717.0 763.1,717.0 763.1,719.6 763.8,719.6 763.8,722.3 764.5,722.3 764.5,721.6 765.2,721.6 765.2,722.0 765.9,722.0 765.9,725.1 766.6,725.1 766.6,726.4 767.3,726.4 767.3,727.0 768.0,727.0 768.0,728.0 768.7,728.0 768.7,731.3 769.4,731.3 769.4,732.5 770.1,732.5 770.1,731.9 770.8,731.9 770.8,733.5 771.5,733.5 771.5,736.9 772.2,736.9 772.2,735.2 772.9,735.2 772.9,738.0 773.6,738.0 773.6,739.1 774.3,739.1 774.3,740.4 775.0,740.4 775.0,740.2 775.7,740.2 775.7,742.8 776.4,742.8 776.4,743.2 777.1,743.2 777.1,744.7 777.8,744.7 777.8,745.7 778.5,745.7 778.5,744.0 779.2,744.0 779.2,748.5 779.9,748.5 779.9,749.4 780.6,749.4 780.6,750.0 781.3,750.0 781.3,751.6 782.0,751.6 782.0,751.6 782.7,751.6 782.7,748.4 783.4,748.4 783.4,753.8 784.1,753.8 784.1,754.6 784.8,754.6 784.8,756.7 785.5,756.7 785.5,757.5 786.2,757.5 786.2,757.5 786.9,757.5 786.9,758.3 787.6,758.3 787.6,759.3 788.3,759.3 788.3,758.8 789.0,758.8 789.0,759.0 789.7,759.0 789.7,759.9 790.4,759.9 790.4,760.8 793.9,760.8 793.9,762.4 797.4,762.4 797.4,763.0 800.9,763.0 800.9,758.6 804.4,758.6 804.4,764.1 807.9,764.1 807.9,765.0 811.4,765.0 811.4,765.3 814.9,765.3 814.9,767.0 818.4,767.0 818.4,766.3 821.9,766.3 821.9,765.8 825.4,765.8 825.4,766.7 828.9,766.7 828.9,767.4 830.7,767.4 830.7,765.7 831.3,765.7 831.3,767.4 832.4,767.4 832.4,764.9 835.9,764.9 835.9,770.4 839.4,770.4 839.4,768.8 842.9,768.8 842.9,768.9 846.4,768.9 846.4,768.0 849.9,768.0 849.9,771.4 853.4,771.4 853.4,769.0 856.9,769.0 856.9,770.1 860.4,770.1 860.4,767.7 863.9,767.7 863.9,767.4 867.4,767.4 867.4,765.6 870.9,765.6 870.9,765.2 874.4,765.2 874.4,764.6 877.9,764.6 877.9,761.2 881.4,761.2 881.4,759.6 884.9,759.6 884.9,759.8 888.4,759.8 888.4,756.2 891.9,756.2 891.9,754.4 895.4,754.4 895.4,748.4 898.9,748.4 898.9,748.1 902.4,748.1 902.4,746.4 905.9,746.4 905.9,746.1 909.4,746.1 909.4,743.1 912.9,743.1 912.9,743.1 913.2,743.1 913.2,738.9 913.8,738.9 913.8,743.1 916.4,743.1 916.4,748.0 919.9,748.0 919.9,749.6 923.4,749.6 923.4,750.9 926.9,750.9 926.9,755.2 930.4,755.2 930.4,755.8 933.9,755.8 933.9,756.5 937.4,756.5 937.4,757.3 940.9,757.3 940.9,758.0 944.4,758.0 944.4,759.5 947.9,759.5 947.9,757.7 951.4,757.7 951.4,757.4 954.9,757.4 954.9,757.9 958.4,757.9 958.4,755.5 961.9,755.5 961.9,751.9 962.4,751.9 962.4,752.6 965.4,752.6 965.4,756.2 968.9,756.2 968.9,759.8 972.4,759.8 972.4,761.8 975.9,761.8 975.9,759.4 979.4,759.4 979.4,761.8 982.9,761.8 982.9,766.6 986.4,766.6 986.4,766.6 989.9,766.6 989.9,767.6 993.4,767.6 993.4,769.7 996.9,769.7 996.9,770.1 1000.4,770.1 1000.4,767.8 1003.9,767.8 1003.9,772.6 1007.4,772.6 1007.4,771.6 1010.9,771.6 1010.9,767.0 1014.4,767.0 1014.4,774.3 1017.9,774.3 1017.9,773.4 1021.4,773.4 1021.4,769.4 1024.9,769.4 1024.9,773.4 1026.7,773.4 1026.7,771.3 1027.3,771.3 1027.3,773.4 1028.4,773.4 1028.4,775.2 1031.9,775.2 1031.9,776.8 1035.4,776.8 1035.4,774.3 1038.9,774.3 1038.9,772.9 1042.4,772.9 1042.4,773.0 1045.9,773.0 1045.9,773.9 1049.4,773.9 1049.4,775.0 1052.9,775.0 1052.9,772.7 1056.4,772.7 1056.4,771.8 1059.1,771.8 1059.1,771.3 1059.7,771.3 1059.7,771.8 1059.9,771.8 1059.9,773.9 1063.4,773.9 1063.4,773.2 1066.9,773.2 1066.9,773.2 1070.4,773.2 1070.4,766.6 1073.9,766.6 1073.9,771.3 1077.4,771.3 1077.4,772.1 1080.9,772.1 1080.9,773.1 1084.4,773.1 1084.4,775.1 1087.9,775.1 1087.9,774.8 1091.4,774.8 1091.4,771.3 1094.9,771.3 1094.9,771.0 1098.4,771.0 1098.4,767.6 1101.9,767.6 1101.9,773.1 1105.4,773.1 1105.4,770.9 1107.7,770.9 1107.7,769.7 1108.3,769.7 1108.3,770.9 1108.9,770.9 1108.9,772.3 1112.4,772.3 1112.4,772.1 1115.9,772.1 1115.9,774.5 1119.4,774.5 1119.4,771.1 1122.9,771.1 1122.9,774.2 1126.4,774.2 1126.4,771.1 1129.9,771.1 1129.9,768.0 1133.4,768.0 1133.4,772.5 1136.9,772.5 1136.9,767.3 1140.4,767.3 1140.4,769.7 1143.9,769.7 1143.9,769.3 1147.4,769.3 1147.4,771.5 1150.9,771.5 1150.9,770.9 1154.4,770.9 1154.4,768.2 1157.9,768.2 1157.9,763.4 1161.4,763.4 1161.4,767.5 1164.9,767.5 1164.9,768.0 1168.4,768.0 1168.4,768.1 1171.9,768.1 1171.9,766.5 1175.4,766.5 1175.4,766.2 1178.9,766.2 1178.9,766.5 1182.4,766.5 1182.4,765.5 1185.9,765.5 1185.9,768.1 1189.4,768.1 1189.4,767.1 1192.9,767.1 1192.9,765.1 1196.4,765.1 1196.4,761.4 1199.9,761.4 1199.9,763.6 1202.7,763.6 1202.7,758.0 1203.3,758.0 1203.3,763.6 1203.4,763.6 1203.4,762.1 1206.9,762.1 1206.9,761.6 1208.5,761.6 1208.5,781.8 1206.9,781.8 1206.9,782.5 1203.4,782.5 1203.4,779.6 1203.3,779.6 1203.3,785.0 1202.7,785.0 1202.7,779.6 1199.9,779.6 1199.9,779.7 1196.4,779.7 1196.4,779.8 1192.9,779.8 1192.9,777.5 1189.4,777.5 1189.4,778.3 1185.9,778.3 1185.9,777.5 1182.4,777.5 1182.4,777.4 1178.9,777.4 1178.9,776.3 1175.4,776.3 1175.4,778.3 1171.9,778.3 1171.9,775.6 1168.4,775.6 1168.4,778.8 1164.9,778.8 1164.9,776.7 1161.4,776.7 1161.4,778.7 1157.9,778.7 1157.9,779.3 1154.4,779.3 1154.4,782.5 1150.9,782.5 1150.9,780.0 1147.4,780.0 1147.4,777.1 1143.9,777.1 1143.9,781.3 1140.4,781.3 1140.4,784.6 1136.9,784.6 1136.9,783.3 1133.4,783.3 1133.4,786.7 1129.9,786.7 1129.9,782.9 1126.4,782.9 1126.4,787.1 1124.6,787.1 1124.6,787.1 1124.0,787.1 1124.0,787.1 1122.9,787.1 1122.9,787.0 1119.4,787.0 1119.4,780.2 1115.9,780.2 1115.9,783.6 1112.4,783.6 1112.4,783.2 1108.9,783.2 1108.9,782.6 1105.4,782.6 1105.4,782.1 1101.9,782.1 1101.9,783.5 1098.4,783.5 1098.4,783.8 1094.9,783.8 1094.9,784.5 1091.4,784.5 1091.4,784.9 1087.9,784.9 1087.9,784.7 1084.4,784.7 1084.4,785.4 1080.9,785.4 1080.9,785.8 1077.4,785.8 1077.4,786.6 1075.9,786.6 1075.9,788.0 1075.3,788.0 1075.3,786.6 1073.9,786.6 1073.9,786.9 1070.4,786.9 1070.4,786.2 1066.9,786.2 1066.9,785.6 1063.4,785.6 1063.4,782.5 1059.9,782.5 1059.9,787.7 1056.4,787.7 1056.4,779.0 1052.9,779.0 1052.9,789.5 1049.4,789.5 1049.4,781.4 1045.9,781.4 1045.9,784.8 1042.4,784.8 1042.4,784.8 1038.9,784.8 1038.9,783.8 1035.4,783.8 1035.4,780.2 1031.9,780.2 1031.9,786.9 1028.4,786.9 1028.4,784.3 1027.3,784.3 1027.3,784.8 1026.7,784.8 1026.7,784.3 1024.9,784.3 1024.9,783.2 1021.4,783.2 1021.4,783.8 1017.9,783.8 1017.9,783.5 1014.4,783.5 1014.4,783.0 1010.9,783.0 1010.9,782.8 1007.4,782.8 1007.4,782.4 1003.9,782.4 1003.9,782.1 1000.4,782.1 1000.4,785.6 996.9,785.6 996.9,781.2 993.4,781.2 993.4,783.5 989.9,783.5 989.9,779.9 986.4,779.9 986.4,779.2 982.9,779.2 982.9,782.8 979.4,782.8 979.4,774.8 975.9,774.8 975.9,773.2 972.4,773.2 972.4,775.9 968.9,775.9 968.9,772.3 965.4,772.3 965.4,768.0 961.9,768.0 961.9,766.9 958.4,766.9 958.4,768.6 954.9,768.6 954.9,770.0 951.4,770.0 951.4,767.8 947.9,767.8 947.9,771.4 946.2,771.4 946.2,771.8 945.6,771.8 945.6,771.4 944.4,771.4 944.4,775.6 940.9,775.6 940.9,771.8 937.4,771.8 937.4,776.3 933.9,776.3 933.9,775.3 930.4,775.3 930.4,767.4 930.0,767.4 930.0,771.8 929.4,771.8 929.4,767.4 926.9,767.4 926.9,766.0 923.4,766.0 923.4,767.6 919.9,767.6 919.9,758.6 916.4,758.6 916.4,762.5 912.9,762.5 912.9,757.7 909.4,757.7 909.4,758.5 905.9,758.5 905.9,761.8 902.4,761.8 902.4,760.5 898.9,760.5 898.9,762.5 895.4,762.5 895.4,765.6 891.9,765.6 891.9,770.3 888.4,770.3 888.4,768.5 884.9,768.5 884.9,768.1 881.4,768.1 881.4,769.6 877.9,769.6 877.9,771.8 874.4,771.8 874.4,773.2 870.9,773.2 870.9,774.1 867.4,774.1 867.4,774.6 863.9,774.6 863.9,772.0 860.4,772.0 860.4,773.2 856.9,773.2 856.9,780.7 853.4,780.7 853.4,777.0 849.9,777.0 849.9,776.3 846.4,776.3 846.4,775.6 845.3,775.6 845.3,778.4 844.7,778.4 844.7,775.6 842.9,775.6 842.9,774.8 839.4,774.8 839.4,775.3 835.9,775.3 835.9,776.0 832.4,776.0 832.4,775.9 828.9,775.9 828.9,774.3 825.4,774.3 825.4,776.4 821.9,776.4 821.9,776.1 818.4,776.1 818.4,775.7 814.9,775.7 814.9,775.1 811.4,775.1 811.4,774.0 807.9,774.0 807.9,773.9 804.4,773.9 804.4,771.7 800.9,771.7 800.9,771.8 797.4,771.8 797.4,769.1 793.9,769.1 793.9,774.3 790.4,774.3 790.4,768.2 789.7,768.2 789.7,772.8 789.0,772.8 789.0,766.8 788.3,766.8 788.3,768.0 787.6,768.0 787.6,765.9 786.9,765.9 786.9,767.0 786.2,767.0 786.2,766.4 785.5,766.4 785.5,766.1 784.8,766.1 784.8,765.8 784.1,765.8 784.1,763.8 783.4,763.8 783.4,763.3 782.7,763.3 782.7,762.4 782.0,762.4 782.0,763.0 781.3,763.0 781.3,762.6 780.6,762.6 780.6,761.1 779.9,761.1 779.9,760.5 779.2,760.5 779.2,760.3 778.5,760.3 778.5,757.3 777.8,757.3 777.8,759.5 777.1,759.5 777.1,757.3 776.4,757.3 776.4,758.3 775.7,758.3 775.7,757.7 775.0,757.7 775.0,757.6 774.3,757.6 774.3,757.2 773.6,757.2 773.6,760.4 772.9,760.4 772.9,755.1 772.2,755.1 772.2,755.4 771.5,755.4 771.5,754.1 770.8,754.1 770.8,754.7 770.1,754.7 770.1,753.3 769.4,753.3 769.4,752.0 768.7,752.0 768.7,749.4 768.0,749.4 768.0,751.3 767.3,751.3 767.3,750.6 766.6,750.6 766.6,748.3 765.9,748.3 765.9,748.2 765.2,748.2 765.2,745.9 764.5,745.9 764.5,744.7 763.8,744.7 763.8,748.3 763.1,748.3 763.1,740.3 762.4,740.3 762.4,739.0 761.7,739.0 761.7,736.9 761.0,736.9 761.0,740.7 760.3,740.7 760.3,734.4 759.6,734.4 759.6,733.4 758.9,733.4 758.9,728.2 758.2,728.2 758.2,728.5 757.5,728.5 757.5,725.5 756.8,725.5 756.8,724.8 756.1,724.8 756.1,720.6 755.4,720.6 755.4,719.2 754.7,719.2 754.7,715.8 754.0,715.8 754.0,714.5 753.3,714.5 753.3,713.5 752.6,713.5 752.6,710.9 751.9,710.9 751.9,709.4 751.2,709.4 751.2,707.0 750.5,707.0 750.5,705.6 749.8,705.6 749.8,704.0 749.1,704.0 749.1,699.2 748.4,699.2 748.4,696.7 747.7,696.7 747.7,691.2 747.0,691.2 747.0,688.9 746.3,688.9 746.3,686.2 745.6,686.2 745.6,681.5 744.9,681.5 744.9,678.6 744.2,678.6 744.2,673.4 743.5,673.4 743.5,670.7 742.8,670.7 742.8,666.7 742.1,666.7 742.1,661.2 741.4,661.2 741.4,657.8 740.7,657.8 740.7,654.3 740.0,654.3 740.0,653.0 739.3,653.0 739.3,651.2 738.6,651.2 738.6,649.2 737.9,649.2 737.9,649.3 737.2,649.3 737.2,648.7 736.5,648.7 736.5,648.8 735.8,648.8 735.8,649.0 735.1,649.0 735.1,649.0 734.4,649.0 734.4,649.0 733.7,649.0 733.7,649.0 733.0,649.0 733.0,648.9 732.3,648.9 732.3,649.5 731.6,649.5 731.6,650.3 730.9,650.3 730.9,653.9 730.2,653.9 730.2,655.5 729.5,655.5 729.5,657.7 728.8,657.7 728.8,662.8 728.1,662.8 728.1,666.5 727.4,666.5 727.4,672.9 726.7,672.9 726.7,676.4 726.0,676.4 726.0,680.2 725.3,680.2 725.3,687.7 724.6,687.7 724.6,691.3 723.9,691.3 723.9,697.9 723.2,697.9 723.2,701.0 722.5,701.0 722.5,707.6 721.8,707.6 721.8,710.1 721.1,710.1 721.1,713.4 720.4,713.4 720.4,718.8 719.7,718.8 719.7,721.5 719.0,721.5 719.0,723.6 718.3,723.6 718.3,728.6 717.6,728.6 717.6,731.4 716.9,731.4 716.9,738.9 716.2,738.9 716.2,737.8 715.5,737.8 715.5,739.3 714.8,739.3 714.8,741.6 714.1,741.6 714.1,741.3 713.4,741.3 713.4,746.9 712.7,746.9 712.7,748.2 712.0,748.2 712.0,749.8 711.3,749.8 711.3,752.3 710.6,752.3 710.6,753.9 709.9,753.9 709.9,755.6 709.2,755.6 709.2,755.9 708.5,755.9 708.5,756.1 707.8,756.1 707.8,755.5 707.1,755.5 707.1,755.3 706.4,755.3 706.4,757.5 705.7,757.5 705.7,757.9 705.0,757.9 705.0,758.5 704.3,758.5 704.3,759.6 703.6,759.6 703.6,760.5 702.9,760.5 702.9,761.1 702.2,761.1 702.2,761.2 701.5,761.2 701.5,762.9 700.8,762.9 700.8,764.1 700.1,764.1 700.1,764.3 699.4,764.3 699.4,769.0 696.9,769.0 696.9,769.0 696.3,769.0 696.3,769.0 695.9,769.0 695.9,772.1 692.4,772.1 692.4,767.5 688.9,767.5 688.9,767.6 685.4,767.6 685.4,767.2 681.9,767.2 681.9,767.9 678.4,767.9 678.4,770.1 674.9,770.1 674.9,769.6 671.4,769.6 671.4,772.7 667.9,772.7 667.9,772.7 664.4,772.7 664.4,775.5 664.0,775.5 664.0,777.0 663.5,777.0 663.5,775.5 660.9,775.5 660.9,775.6 657.4,775.6 657.4,777.0 653.9,777.0 653.9,776.5 653.1,776.5 653.1,777.0 652.5,777.0 652.5,776.5 650.4,776.5 650.4,773.4 646.9,773.4 646.9,779.6 643.4,779.6 643.4,779.4 639.9,779.4 639.9,774.2 636.4,774.2 636.4,775.1 632.9,775.1 632.9,777.1 629.4,777.1 629.4,777.6 626.5,777.6 626.5,780.1 626.0,780.1 626.0,777.6 625.9,777.6 625.9,779.7 622.4,779.7 622.4,778.0 618.9,778.0 618.9,779.1 615.4,779.1 615.4,778.8 611.9,778.8 611.9,778.4 608.4,778.4 608.4,780.9 604.9,780.9 604.9,777.3 601.4,777.3 601.4,776.4 597.9,776.4 597.9,776.5 594.4,776.5 594.4,775.4 590.9,775.4 590.9,776.3 587.4,776.3 587.4,774.5 583.9,774.5 583.9,774.6 580.4,774.6 580.4,774.4 579.7,774.4 579.7,774.1 579.0,774.1 579.0,774.0 578.3,774.0 578.3,773.2 577.6,773.2 577.6,777.8 576.9,777.8 576.9,772.9 576.2,772.9 576.2,773.4 575.5,773.4 575.5,773.9 574.8,773.9 574.8,773.8 574.1,773.8 574.1,773.3 573.4,773.3 573.4,773.6 572.7,773.6 572.7,772.3 572.0,772.3 572.0,773.0 568.5,773.0 568.5,773.0 565.0,773.0 565.0,773.0 561.5,773.0 561.5,772.1 560.9,772.1 560.9,773.0 560.3,773.0 560.3,772.1 558.0,772.1 558.0,770.0 554.5,770.0 554.5,771.4 551.0,771.4 551.0,769.8 547.5,769.8 547.5,771.0 544.0,771.0 544.0,768.8 540.5,768.8 540.5,769.3 537.0,769.3 537.0,767.8 535.9,767.8 535.9,772.3 535.3,772.3 535.3,767.8 533.5,767.8 533.5,762.8 530.0,762.8 530.0,764.0 526.5,764.0 526.5,763.0 523.0,763.0 523.0,765.0 519.5,765.0 519.5,764.0 519.3,764.0 519.3,765.3 518.7,765.3 518.7,764.0 516.0,764.0 516.0,763.4 512.5,763.4 512.5,763.0 511.8,763.0 511.8,761.8 511.1,761.8 511.1,760.5 510.4,760.5 510.4,759.5 509.7,759.5 509.7,759.7 509.0,759.7 509.0,756.5 508.3,756.5 508.3,758.0 507.6,758.0 507.6,756.2 506.9,756.2 506.9,756.0 506.2,756.0 506.2,755.3 505.5,755.3 505.5,759.6 504.8,759.6 504.8,754.8 504.1,754.8 504.1,753.0 503.4,753.0 503.4,747.0 502.7,747.0 502.7,735.0 502.0,735.0 502.0,731.1 501.3,731.1 501.3,727.3 500.6,727.3 500.6,719.6 499.9,719.6 499.9,715.6 499.2,715.6 499.2,711.4 498.5,711.4 498.5,708.2 497.8,708.2 497.8,695.5 497.1,695.5 497.1,679.2 496.4,679.2 496.4,672.4 495.7,672.4 495.7,657.6 495.0,657.6 495.0,641.5 494.3,641.5 494.3,636.8 493.6,636.8 493.6,634.7 492.9,634.7 492.9,633.5 492.2,633.5 492.2,632.6 491.5,632.6 491.5,632.3 490.8,632.3 490.8,632.3 490.1,632.3 490.1,631.6 489.4,631.6 489.4,631.9 488.7,631.9 488.7,632.6 488.0,632.6 488.0,635.8 487.3,635.8 487.3,634.1 486.6,634.1 486.6,635.2 485.9,635.2 485.9,637.8 485.2,637.8 485.2,648.7 484.5,648.7 484.5,664.2 483.8,664.2 483.8,677.1 483.1,677.1 483.1,683.6 482.4,683.6 482.4,695.3 481.7,695.3 481.7,700.8 481.0,700.8 481.0,704.3 480.3,704.3 480.3,707.4 479.6,707.4 479.6,711.8 478.9,711.8 478.9,719.6 478.2,719.6 478.2,719.2 477.5,719.2 477.5,722.4 476.8,722.4 476.8,727.9 476.1,727.9 476.1,730.4 475.4,730.4 475.4,735.7 474.7,735.7 474.7,739.0 474.0,739.0 474.0,741.0 473.3,741.0 473.3,746.5 472.6,746.5 472.6,741.3 471.9,741.3 471.9,741.8 471.2,741.8 471.2,745.9 470.5,745.9 470.5,742.1 469.8,742.1 469.8,742.3 469.1,742.3 469.1,742.5 468.4,742.5 468.4,743.0 467.7,743.0 467.7,746.9 467.0,746.9 467.0,743.1 466.3,743.1 466.3,747.8 465.6,747.8 465.6,746.8 464.9,746.8 464.9,749.1 464.7,749.1 464.7,751.1 464.2,751.1 464.2,747.3 463.5,747.3 463.5,744.2 460.0,744.2 460.0,742.4 456.5,742.4 456.5,743.8 453.0,743.8 453.0,746.5 452.3,746.5 452.3,750.3 451.6,750.3 451.6,746.8 451.6,746.8 451.6,748.9 450.9,748.9 450.9,746.8 450.9,746.8 450.9,745.1 450.2,745.1 450.2,744.2 449.5,744.2 449.5,744.2 448.8,744.2 448.8,743.6 448.1,743.6 448.1,746.6 447.4,746.6 447.4,740.1 446.7,740.1 446.7,741.1 446.0,741.1 446.0,738.0 445.3,738.0 445.3,737.1 444.6,737.1 444.6,739.5 443.9,739.5 443.9,734.6 443.2,734.6 443.2,736.4 442.5,736.4 442.5,735.1 441.8,735.1 441.8,734.7 441.1,734.7 441.1,732.9 440.4,732.9 440.4,732.9 439.7,732.9 439.7,732.9 439.0,732.9 439.0,735.5 438.3,735.5 438.3,732.5 437.6,732.5 437.6,731.5 436.9,731.5 436.9,731.9 436.2,731.9 436.2,731.1 435.5,731.1 435.5,731.3 434.8,731.3 434.8,731.1 434.1,731.1 434.1,730.6 433.4,730.6 433.4,730.4 432.7,730.4 432.7,730.0 432.0,730.0 432.0,729.4 431.3,729.4 431.3,729.8 430.6,729.8 430.6,728.7 429.9,728.7 429.9,726.8 429.2,726.8 429.2,724.6 428.5,724.6 428.5,723.3 427.8,723.3 427.8,721.1 427.1,721.1 427.1,720.6 426.4,720.6 426.4,717.8 425.7,717.8 425.7,716.2 425.0,716.2 425.0,716.0 424.3,716.0 424.3,716.2 423.6,716.2 423.6,715.9 422.9,715.9 422.9,715.4 422.2,715.4 422.2,713.3 418.7,713.3 418.7,721.5 418.1,721.5 418.1,716.8 418.0,716.8 418.0,716.5 417.3,716.5 417.3,718.9 416.6,718.9 416.6,715.0 415.9,715.0 415.9,714.1 415.2,714.1 415.2,716.5 414.5,716.5 414.5,710.7 413.8,710.7 413.8,714.9 413.1,714.9 413.1,709.1 412.4,709.1 412.4,710.2 411.7,710.2 411.7,712.6 411.0,712.6 411.0,711.0 410.3,711.0 410.3,711.4 409.6,711.4 409.6,710.5 408.9,710.5 408.9,712.2 408.2,712.2 408.2,713.4 407.5,713.4 407.5,714.0 406.8,714.0 406.8,714.3 406.7,714.3 406.7,720.4 406.1,720.4 406.1,714.3 406.1,714.3 406.1,717.0 405.4,717.0 405.4,715.7 401.9,715.7 401.9,712.1 398.4,712.1 398.4,712.3 397.7,712.3 397.7,710.6 397.0,710.6 397.0,710.9 396.3,710.9 396.3,710.9 395.6,710.9 395.6,711.1 394.9,711.1 394.9,711.0 394.2,711.0 394.2,712.7 393.5,712.7 393.5,711.4 392.8,711.4 392.8,715.7 392.1,715.7 392.1,716.2 391.4,716.2 391.4,718.2 390.7,718.2 390.7,717.3 390.3,717.3 390.3,722.6 390.0,722.6 390.0,715.3 389.3,715.3 389.3,713.9 388.6,713.9 388.6,713.8 387.9,713.8 387.9,713.9 387.2,713.9 387.2,712.0 386.5,712.0 386.5,707.8 383.0,707.8 383.0,709.3 379.5,709.3 379.5,704.8 376.0,704.8 376.0,707.7 372.5,707.7 372.5,707.2 369.0,707.2 369.0,704.8 365.5,704.8 365.5,707.7 364.8,707.7 364.8,704.4 364.1,704.4 364.1,702.5 363.4,702.5 363.4,708.2 362.7,708.2 362.7,702.8 362.0,702.8 362.0,701.0 361.3,701.0 361.3,701.1 360.6,701.1 360.6,700.7 359.9,700.7 359.9,701.3 359.2,701.3 359.2,700.7 358.5,700.7 358.5,698.9 357.8,698.9 357.8,700.1 357.1,700.1 357.1,699.5 356.4,699.5 356.4,697.7 352.9,697.7 352.9,696.0 349.4,696.0 349.4,693.6 345.9,693.6 345.9,692.2 345.2,692.2 345.2,691.6 344.5,691.6 344.5,689.7 343.8,689.7 343.8,690.0 343.1,690.0 343.1,686.6 342.4,686.6 342.4,687.6 341.7,687.6 341.7,685.4 341.0,685.4 341.0,684.0 340.3,684.0 340.3,682.0 339.6,682.0 339.6,681.7 338.9,681.7 338.9,680.4 338.2,680.4 338.2,677.7 337.5,677.7 337.5,677.9 336.8,677.9 336.8,678.9 336.1,678.9 336.1,674.2 335.4,674.2 335.4,673.1 334.7,673.1 334.7,672.4 334.0,672.4 334.0,671.5 333.3,671.5 333.3,671.2 332.6,671.2 332.6,670.5 331.9,670.5 331.9,666.9 328.4,666.9 328.4,661.6 324.9,661.6 324.9,661.6 324.2,661.6 324.2,662.5 323.5,662.5 323.5,656.6 322.8,656.6 322.8,655.2 322.1,655.2 322.1,652.3 321.4,652.3 321.4,650.5 320.7,650.5 320.7,647.3 320.0,647.3 320.0,650.4 319.3,650.4 319.3,643.5 318.6,643.5 318.6,640.7 317.9,640.7 317.9,638.7 317.2,638.7 317.2,635.8 316.5,635.8 316.5,634.1 315.8,634.1 315.8,632.4 315.1,632.4 315.1,629.3 314.4,629.3 314.4,631.0 313.7,631.0 313.7,624.2 313.0,624.2 313.0,622.8 312.3,622.8 312.3,620.3 311.6,620.3 311.6,622.4 310.9,622.4 310.9,615.8 310.2,615.8 310.2,611.3 309.5,611.3 309.5,608.2 308.8,608.2 308.8,604.6 308.1,604.6 308.1,598.0 307.4,598.0 307.4,594.1 306.7,594.1 306.7,587.9 306.0,587.9 306.0,585.1 305.3,585.1 305.3,583.5 304.6,583.5 304.6,579.5 303.9,579.5 303.9,577.4 303.2,577.4 303.2,573.6 302.5,573.6 302.5,571.9 301.8,571.9 301.8,574.7 301.1,574.7 301.1,569.6 300.4,569.6 300.4,568.8 299.7,568.8 299.7,566.8 299.0,566.8 299.0,564.7 298.3,564.7 298.3,563.3 297.6,563.3 297.6,558.4 296.9,558.4 296.9,556.3 296.2,556.3 296.2,548.1 295.5,548.1 295.5,545.0 294.8,545.0 294.8,539.2 294.1,539.2 294.1,531.9 293.4,531.9 293.4,525.0 292.7,525.0 292.7,515.0 292.0,515.0 292.0,513.3 291.3,513.3 291.3,507.7 290.6,507.7 290.6,500.6 289.9,500.6 289.9,497.5 289.2,497.5 289.2,495.3 288.5,495.3 288.5,492.4 287.8,492.4 287.8,492.2 287.1,492.2 287.1,491.8 286.4,491.8 286.4,491.7 285.7,491.7 285.7,490.5 285.0,490.5 285.0,491.3 284.3,491.3 284.3,488.8 280.8,488.8 280.8,487.6 277.3,487.6 277.3,488.2 276.6,488.2 276.6,488.5 275.9,488.5 275.9,489.9 275.2,489.9 275.2,488.0 274.5,488.0 274.5,490.0 273.8,490.0 273.8,490.7 273.1,490.7 273.1,490.3 272.4,490.3 272.4,491.1 271.7,491.1 271.7,492.4 271.0,492.4 271.0,493.2 270.3,493.2 270.3,496.9 269.6,496.9 269.6,498.2 268.9,498.2 268.9,499.9 268.2,499.9 268.2,502.5 267.5,502.5 267.5,503.3 266.8,503.3 266.8,506.3 266.1,506.3 266.1,507.7 265.4,507.7 265.4,512.3 264.7,512.3 264.7,514.9 264.0,514.9 264.0,516.2 263.3,516.2 263.3,522.1 262.6,522.1 262.6,523.8 261.9,523.8 261.9,522.2 261.2,522.2 261.2,522.6 260.5,522.6 260.5,530.1 259.8,530.1 259.8,525.9 259.1,525.9 259.1,526.9 258.4,526.9 258.4,531.3 257.7,531.3 257.7,528.7 257.0,528.7 257.0,529.6 256.3,529.6 256.3,531.2 255.6,531.2 255.6,532.3 254.9,532.3 254.9,534.0 254.2,534.0 254.2,533.3 253.5,533.3 253.5,535.3 252.8,535.3 252.8,536.1 252.1,536.1 252.1,538.2 248.6,538.2 248.6,547.2 247.9,547.2 247.9,544.3 247.2,544.3 247.2,544.0 246.5,544.0 246.5,543.4 245.8,543.4 245.8,547.1 245.1,547.1 245.1,547.3 244.4,547.3 244.4,549.2 243.7,549.2 243.7,547.0 243.0,547.0 243.0,548.3 242.3,548.3 242.3,548.8 241.6,548.8 241.6,559.5 241.1,559.5 241.1,549.5 240.9,549.5 240.9,556.8 240.2,556.8 240.2,557.1 239.5,557.1 239.5,553.9 238.8,553.9 238.8,556.4 238.1,556.4 238.1,554.7 237.4,554.7 237.4,555.7 236.7,555.7 236.7,554.3 236.0,554.3 236.0,555.3 235.3,555.3 235.3,554.8 234.6,554.8 234.6,554.9 233.9,554.9 233.9,556.0 233.2,556.0 233.2,559.9 232.5,559.9 232.5,561.0 231.8,561.0 231.8,557.2 228.3,557.2 228.3,557.2 227.3,557.2 227.3,563.9 226.7,563.9 226.7,557.2 224.8,557.2 224.8,559.7 221.3,559.7 221.3,555.4 217.8,555.4 217.8,557.5 214.3,557.5 214.3,557.0 213.6,557.0 213.6,557.2 212.9,557.2 212.9,558.9 212.2,558.9 212.2,559.8 211.5,559.8 211.5,559.3 210.8,559.3 210.8,561.1 210.1,561.1 210.1,564.4 210.0,564.4 210.0,578.3 209.4,578.3 209.4,564.4 209.4,564.4 209.4,563.7 208.7,563.7 208.7,560.0 208.0,560.0 208.0,557.2 207.3,557.2 207.3,556.5 206.6,556.5 206.6,557.4 205.9,557.4 205.9,551.8 205.2,551.8 205.2,547.7 204.5,547.7 204.5,547.8 203.8,547.8 203.8,548.3 203.1,548.3 203.1,546.7 202.4,546.7 202.4,545.8 201.7,545.8 201.7,547.0 201.0,547.0 201.0,542.3 200.3,542.3 200.3,546.8 199.6,546.8 199.6,537.9 198.9,537.9 198.9,541.2 198.2,541.2 198.2,532.5 197.5,532.5 197.5,532.8 196.8,532.8 196.8,534.3 196.1,534.3 196.1,533.8 195.4,533.8 195.4,529.8 194.7,529.8 194.7,529.4 194.0,529.4 194.0,529.4 193.3,529.4 193.3,525.8 192.6,525.8 192.6,524.1 189.1,524.1 189.1,530.8 185.6,530.8 185.6,531.8 182.1,531.8 182.1,533.9 181.4,533.9 181.4,534.5 180.7,534.5 180.7,531.6 180.3,531.6 180.3,537.0 180.0,537.0 180.0,530.6 179.3,530.6 179.3,525.7 178.6,525.7 178.6,527.4 177.9,527.4 177.9,530.5 177.2,530.5 177.2,527.5 176.5,527.5 176.5,529.1 175.8,529.1 175.8,527.1 175.1,527.1 175.1,528.4 174.4,528.4 174.4,529.3 173.7,529.3 173.7,531.0 173.0,531.0Z" fill="#ff0000" stroke="#ff0000" stroke-width="7.0" stroke-linejoin="round"/>
<path d="M173.0,311.2 173.7,311.2 173.7,308.6 174.4,308.6 174.4,310.6 175.1,310.6 175.1,310.5 175.8,310.5 175.8,311.3 176.5,311.3 176.5,309.8 177.2,309.8 177.2,310.2 177.9,310.2 177.9,309.4 178.6,309.4 178.6,304.3 179.3,304.3 179.3,308.3 180.0,308.3 180.0,309.1 180.7,309.1 180.7,307.9 181.4,307.9 181.4,304.6 182.1,304.6 182.1,303.8 182.3,303.8 182.3,299.4 182.8,299.4 182.8,309.0 183.5,309.0 183.5,310.7 184.2,310.7 184.2,313.2 184.9,313.2 184.9,316.4 185.6,316.4 185.6,316.7 186.3,316.7 186.3,320.5 187.0,320.5 187.0,318.8 187.7,318.8 187.7,318.3 188.4,318.3 188.4,321.8 189.1,321.8 189.1,319.7 189.8,319.7 189.8,320.1 190.5,320.1 190.5,321.9 191.2,321.9 191.2,321.5 194.7,321.5 194.7,322.1 198.2,322.1 198.2,318.4 198.9,318.4 198.9,318.7 199.6,318.7 199.6,314.6 200.3,314.6 200.3,324.4 201.0,324.4 201.0,324.3 201.0,324.3 201.0,313.5 201.6,313.5 201.6,324.3 201.7,324.3 201.7,325.4 202.4,325.4 202.4,323.0 203.1,323.0 203.1,329.5 203.8,329.5 203.8,331.1 204.5,331.1 204.5,329.8 205.2,329.8 205.2,330.9 205.9,330.9 205.9,330.0 206.6,330.0 206.6,332.5 207.3,332.5 207.3,329.6 208.0,329.6 208.0,329.9 208.7,329.9 208.7,331.7 209.4,331.7 209.4,334.0 210.1,334.0 210.1,334.1 210.4,334.1 210.4,326.3 210.8,326.3 210.8,337.9 211.5,337.9 211.5,340.0 212.2,340.0 212.2,342.4 212.9,342.4 212.9,347.5 213.6,347.5 213.6,347.3 214.3,347.3 214.3,349.4 215.0,349.4 215.0,346.7 215.7,346.7 215.7,349.2 216.4,349.2 216.4,348.6 217.1,348.6 217.1,348.4 217.8,348.4 217.8,346.9 218.5,346.9 218.5,349.2 219.2,349.2 219.2,348.6 222.7,348.6 222.7,349.2 223.4,349.2 223.4,343.9 223.9,343.9 223.9,352.5 224.1,352.5 224.1,353.6 224.8,353.6 224.8,357.0 225.5,357.0 225.5,358.4 226.2,358.4 226.2,360.2 226.9,360.2 226.9,362.6 227.6,362.6 227.6,361.9 228.3,361.9 228.3,362.9 229.0,362.9 229.0,362.5 229.7,362.5 229.7,362.8 230.4,362.8 230.4,363.1 231.1,363.1 231.1,361.8 231.8,361.8 231.8,361.7 232.5,361.7 232.5,359.3 233.2,359.3 233.2,355.7 233.9,355.7 233.9,354.7 234.6,354.7 234.6,350.3 235.3,350.3 235.3,347.6 236.0,347.6 236.0,347.6 236.7,347.6 236.7,346.1 237.4,346.1 237.4,344.9 238.1,344.9 238.1,342.6 238.8,342.6 238.8,341.8 239.5,341.8 239.5,342.9 240.2,342.9 240.2,343.0 240.9,343.0 240.9,341.3 241.6,341.3 241.6,334.5 242.3,334.5 242.3,338.9 243.0,338.9 243.0,338.5 243.7,338.5 243.7,335.0 244.4,335.0 244.4,338.5 245.1,338.5 245.1,335.8 245.8,335.8 245.8,335.2 246.5,335.2 246.5,335.3 247.2,335.3 247.2,334.0 247.9,334.0 247.9,334.0 248.6,334.0 248.6,330.3 249.3,330.3 249.3,331.3 250.0,331.3 250.0,328.6 250.7,328.6 250.7,329.3 251.4,329.3 251.4,326.3 252.1,326.3 252.1,323.1 252.8,323.1 252.8,321.0 253.5,321.0 253.5,323.8 254.2,323.8 254.2,317.5 254.9,317.5 254.9,316.9 255.6,316.9 255.6,313.4 256.3,313.4 256.3,313.2 257.0,313.2 257.0,313.0 257.7,313.0 257.7,307.1 258.4,307.1 258.4,305.8 259.1,305.8 259.1,303.5 259.8,303.5 259.8,300.6 260.5,300.6 260.5,298.2 261.2,298.2 261.2,296.5 261.9,296.5 261.9,295.3 262.6,295.3 262.6,292.2 263.3,292.2 263.3,290.8 264.0,290.8 264.0,290.6 264.7,290.6 264.7,287.0 265.4,287.0 265.4,284.2 266.1,284.2 266.1,278.5 266.8,278.5 266.8,275.8 267.5,275.8 267.5,273.4 268.2,273.4 268.2,267.0 268.9,267.0 268.9,264.4 269.6,264.4 269.6,255.4 270.3,255.4 270.3,255.0 271.0,255.0 271.0,252.7 271.7,252.7 271.7,248.5 272.4,248.5 272.4,246.8 273.1,246.8 273.1,242.1 273.8,242.1 273.8,237.5 274.5,237.5 274.5,233.8 275.2,233.8 275.2,227.7 275.9,227.7 275.9,225.0 276.6,225.0 276.6,224.4 277.3,224.4 277.3,220.7 278.0,220.7 278.0,221.6 278.7,221.6 278.7,220.2 282.2,220.2 282.2,218.3 284.7,218.3 284.7,216.5 285.3,216.5 285.3,218.3 285.7,218.3 285.7,216.7 286.4,216.7 286.4,218.2 287.1,218.2 287.1,219.0 287.8,219.0 287.8,220.7 288.5,220.7 288.5,222.5 289.2,222.5 289.2,229.7 289.9,229.7 289.9,243.0 290.6,243.0 290.6,250.4 291.3,250.4 291.3,265.1 292.0,265.1 292.0,272.6 292.7,272.6 292.7,280.1 293.4,280.1 293.4,291.1 294.1,291.1 294.1,299.5 294.8,299.5 294.8,309.5 295.5,309.5 295.5,315.5 296.2,315.5 296.2,321.0 296.9,321.0 296.9,330.0 297.6,330.0 297.6,334.1 298.3,334.1 298.3,342.2 299.0,342.2 299.0,342.9 299.7,342.9 299.7,347.4 300.4,347.4 300.4,350.8 301.1,350.8 301.1,352.3 301.8,352.3 301.8,356.8 302.5,356.8 302.5,358.2 303.2,358.2 303.2,361.3 303.9,361.3 303.9,367.0 304.6,367.0 304.6,370.5 305.3,370.5 305.3,388.2 306.0,388.2 306.0,390.8 306.7,390.8 306.7,393.7 307.4,393.7 307.4,394.7 308.1,394.7 308.1,398.0 308.8,398.0 308.8,405.7 309.5,405.7 309.5,403.5 310.2,403.5 310.2,409.8 310.9,409.8 310.9,414.0 311.6,414.0 311.6,415.5 312.3,415.5 312.3,419.0 313.0,419.0 313.0,421.5 313.7,421.5 313.7,422.2 314.4,422.2 314.4,426.3 315.1,426.3 315.1,424.2 315.8,424.2 315.8,431.1 316.5,431.1 316.5,431.1 317.2,431.1 317.2,432.3 317.9,432.3 317.9,430.2 318.6,430.2 318.6,438.9 319.3,438.9 319.3,441.7 320.0,441.7 320.0,440.7 320.7,440.7 320.7,442.1 321.4,442.1 321.4,444.7 322.1,444.7 322.1,446.0 322.8,446.0 322.8,448.7 323.5,448.7 323.5,446.7 324.2,446.7 324.2,452.1 324.9,452.1 324.9,454.3 325.6,454.3 325.6,452.3 326.3,452.3 326.3,457.4 327.0,457.4 327.0,459.9 327.7,459.9 327.7,459.7 328.4,459.7 328.4,462.9 329.1,462.9 329.1,462.7 329.8,462.7 329.8,464.1 330.5,464.1 330.5,466.8 331.2,466.8 331.2,464.4 331.9,464.4 331.9,469.0 332.6,469.0 332.6,468.8 333.3,468.8 333.3,472.2 334.0,472.2 334.0,472.4 334.7,472.4 334.7,473.4 335.4,473.4 335.4,476.9 336.1,476.9 336.1,476.9 336.8,476.9 336.8,480.4 337.5,480.4 337.5,479.7 338.2,479.7 338.2,480.1 338.9,480.1 338.9,480.7 339.6,480.7 339.6,481.7 340.3,481.7 340.3,481.5 341.0,481.5 341.0,481.5 341.7,481.5 341.7,481.7 342.4,481.7 342.4,480.1 343.1,480.1 343.1,483.7 343.8,483.7 343.8,484.4 344.5,484.4 344.5,483.1 345.2,483.1 345.2,485.1 345.9,485.1 345.9,485.4 346.6,485.4 346.6,485.8 347.3,485.8 347.3,487.0 348.0,487.0 348.0,481.4 348.7,481.4 348.7,488.0 349.4,488.0 349.4,495.3 352.9,495.3 352.9,496.4 356.4,496.4 356.4,492.0 359.9,492.0 359.9,504.2 363.4,504.2 363.4,502.8 366.9,502.8 366.9,503.8 370.4,503.8 370.4,504.0 372.5,504.0 372.5,500.2 373.1,500.2 373.1,504.0 373.9,504.0 373.9,506.6 377.4,506.6 377.4,507.4 378.1,507.4 378.1,507.4 378.8,507.4 378.8,508.7 379.5,508.7 379.5,508.7 380.2,508.7 380.2,508.5 380.9,508.5 380.9,507.4 381.6,507.4 381.6,507.6 382.3,507.6 382.3,505.3 383.0,505.3 383.0,503.0 383.7,503.0 383.7,502.1 384.4,502.1 384.4,502.3 385.1,502.3 385.1,500.6 385.8,500.6 385.8,496.9 386.3,496.9 386.3,496.9 389.3,496.9 389.3,499.2 392.8,499.2 392.8,498.1 396.3,498.1 396.3,494.2 399.8,494.2 399.8,489.2 402.0,489.2 402.0,486.0 402.6,486.0 402.6,489.2 403.3,489.2 403.3,489.5 404.0,489.5 404.0,489.8 404.7,489.8 404.7,490.0 405.4,490.0 405.4,487.4 406.1,487.4 406.1,491.1 406.8,491.1 406.8,491.1 407.5,491.1 407.5,491.7 408.2,491.7 408.2,491.0 408.9,491.0 408.9,491.4 409.6,491.4 409.6,490.7 410.3,490.7 410.3,490.7 411.0,490.7 411.0,490.4 411.7,490.4 411.7,490.0 412.4,490.0 412.4,484.5 413.1,484.5 413.1,488.9 413.8,488.9 413.8,488.5 414.5,488.5 414.5,489.4 418.0,489.4 418.0,482.8 418.7,482.8 418.7,482.7 419.1,482.7 419.1,484.9 419.4,484.9 419.4,488.0 420.1,488.0 420.1,489.2 420.8,489.2 420.8,493.4 421.5,493.4 421.5,495.5 422.2,495.5 422.2,495.0 422.9,495.0 422.9,501.8 423.6,501.8 423.6,499.7 424.3,499.7 424.3,505.4 425.0,505.4 425.0,501.4 425.7,501.4 425.7,507.2 426.4,507.2 426.4,509.5 427.1,509.5 427.1,509.3 427.8,509.3 427.8,511.4 428.5,511.4 428.5,513.5 429.2,513.5 429.2,510.8 429.9,510.8 429.9,514.2 430.6,514.2 430.6,517.5 431.3,517.5 431.3,515.6 432.0,515.6 432.0,516.5 432.7,516.5 432.7,518.6 433.4,518.6 433.4,518.3 434.1,518.3 434.1,517.6 434.8,517.6 434.8,524.2 438.3,524.2 438.3,523.5 439.0,523.5 439.0,526.1 439.7,526.1 439.7,525.0 440.4,525.0 440.4,530.0 441.1,530.0 441.1,527.4 441.8,527.4 441.8,528.6 442.5,528.6 442.5,529.2 443.2,529.2 443.2,531.1 443.9,531.1 443.9,531.0 444.6,531.0 444.6,532.1 445.3,532.1 445.3,532.8 446.0,532.8 446.0,536.7 449.5,536.7 449.5,536.6 453.0,536.6 453.0,539.4 456.5,539.4 456.5,541.8 460.0,541.8 460.0,541.7 463.5,541.7 463.5,540.8 464.2,540.8 464.2,540.4 464.9,540.4 464.9,540.6 465.6,540.6 465.6,539.8 466.3,539.8 466.3,539.5 467.0,539.5 467.0,539.3 467.7,539.3 467.7,538.4 468.4,538.4 468.4,538.7 469.1,538.7 469.1,535.3 469.8,535.3 469.8,533.4 470.5,533.4 470.5,532.8 471.2,532.8 471.2,529.6 471.9,529.6 471.9,527.7 472.6,527.7 472.6,525.7 473.3,525.7 473.3,523.7 474.0,523.7 474.0,522.6 474.7,522.6 474.7,520.2 475.4,520.2 475.4,516.1 476.1,516.1 476.1,517.0 476.8,517.0 476.8,515.0 477.5,515.0 477.5,508.4 478.2,508.4 478.2,509.1 478.9,509.1 478.9,507.1 479.6,507.1 479.6,503.2 480.3,503.2 480.3,500.6 481.0,500.6 481.0,495.0 481.7,495.0 481.7,482.0 482.4,482.0 482.4,475.8 483.1,475.8 483.1,456.8 483.8,456.8 483.8,443.8 484.5,443.8 484.5,430.8 485.2,430.8 485.2,422.0 485.9,422.0 485.9,418.0 486.6,418.0 486.6,410.2 487.3,410.2 487.3,405.7 488.0,405.7 488.0,400.7 488.7,400.7 488.7,392.1 489.4,392.1 489.4,394.8 489.7,394.8 489.7,392.5 490.1,392.5 490.1,394.8 490.8,394.8 490.8,396.9 491.5,396.9 491.5,400.9 492.2,400.9 492.2,405.7 492.9,405.7 492.9,415.2 493.6,415.2 493.6,423.5 494.3,423.5 494.3,440.0 495.0,440.0 495.0,450.2 495.7,450.2 495.7,461.0 496.4,461.0 496.4,470.2 497.1,470.2 497.1,473.2 497.8,473.2 497.8,484.1 498.5,484.1 498.5,485.1 499.2,485.1 499.2,485.9 499.9,485.9 499.9,497.6 500.6,497.6 500.6,501.5 501.3,501.5 501.3,509.4 502.0,509.4 502.0,511.9 502.7,511.9 502.7,517.2 503.4,517.2 503.4,525.2 504.1,525.2 504.1,529.4 504.8,529.4 504.8,534.7 505.5,534.7 505.5,536.3 506.2,536.3 506.2,538.3 506.9,538.3 506.9,541.5 507.6,541.5 507.6,543.1 508.3,543.1 508.3,546.5 509.0,546.5 509.0,548.0 509.7,548.0 509.7,549.7 510.4,549.7 510.4,548.2 511.1,548.2 511.1,551.4 511.8,551.4 511.8,552.5 512.5,552.5 512.5,552.8 513.2,552.8 513.2,552.4 513.9,552.4 513.9,552.9 514.6,552.9 514.6,553.3 515.3,553.3 515.3,557.9 518.8,557.9 518.8,559.5 522.3,559.5 522.3,562.6 525.8,562.6 525.8,560.6 529.3,560.6 529.3,560.5 532.8,560.5 532.8,560.5 536.3,560.5 536.3,561.4 539.8,561.4 539.8,561.0 540.3,561.0 540.3,560.5 540.9,560.5 540.9,561.0 543.3,561.0 543.3,564.2 546.8,564.2 546.8,565.2 550.3,565.2 550.3,562.1 553.8,562.1 553.8,560.7 557.3,560.7 557.3,565.7 560.8,565.7 560.8,565.5 564.3,565.5 564.3,567.8 567.8,567.8 567.8,566.6 571.3,566.6 571.3,567.4 574.8,567.4 574.8,569.7 578.3,569.7 578.3,571.8 581.8,571.8 581.8,569.5 585.3,569.5 585.3,570.4 588.8,570.4 588.8,574.0 592.3,574.0 592.3,570.6 595.8,570.6 595.8,572.2 599.3,572.2 599.3,570.0 602.8,570.0 602.8,572.0 606.3,572.0 606.3,572.8 609.8,572.8 609.8,571.5 613.3,571.5 613.3,570.0 616.8,570.0 616.8,570.3 618.5,570.3 618.5,570.0 619.0,570.0 619.0,570.3 620.3,570.3 620.3,571.4 623.8,571.4 623.8,571.6 627.3,571.6 627.3,572.3 630.8,572.3 630.8,573.9 634.3,573.9 634.3,573.2 637.8,573.2 637.8,575.6 641.3,575.6 641.3,571.7 644.8,571.7 644.8,571.0 648.3,571.0 648.3,572.7 651.8,572.7 651.8,570.0 655.3,570.0 655.3,568.9 658.8,568.9 658.8,569.7 662.3,569.7 662.3,571.6 665.8,571.6 665.8,568.4 669.3,568.4 669.3,567.0 672.8,567.0 672.8,565.3 676.3,565.3 676.3,566.7 679.8,566.7 679.8,562.1 683.3,562.1 683.3,564.0 686.8,564.0 686.8,562.2 687.5,562.2 687.5,561.4 688.2,561.4 688.2,560.2 688.9,560.2 688.9,560.5 689.6,560.5 689.6,560.1 690.3,560.1 690.3,559.8 691.0,559.8 691.0,558.9 691.7,558.9 691.7,558.2 692.4,558.2 692.4,555.9 693.1,555.9 693.1,556.2 693.8,556.2 693.8,555.4 694.5,555.4 694.5,556.2 695.2,556.2 695.2,553.2 695.9,553.2 695.9,552.4 696.6,552.4 696.6,550.9 697.3,550.9 697.3,550.2 698.0,550.2 698.0,550.1 701.5,550.1 701.5,547.1 705.0,547.1 705.0,542.7 705.7,542.7 705.7,540.7 706.4,540.7 706.4,535.3 707.1,535.3 707.1,537.9 707.8,537.9 707.8,537.7 708.5,537.7 708.5,536.7 709.2,536.7 709.2,535.1 709.9,535.1 709.9,534.3 710.6,534.3 710.6,533.0 711.3,533.0 711.3,531.7 712.0,531.7 712.0,530.0 712.7,530.0 712.7,521.7 713.4,521.7 713.4,517.6 714.1,517.6 714.1,509.2 714.8,509.2 714.8,505.0 715.5,505.0 715.5,499.1 716.2,499.1 716.2,487.2 716.9,487.2 716.9,479.2 717.6,479.2 717.6,463.3 718.3,463.3 718.3,452.5 719.0,452.5 719.0,435.3 719.7,435.3 719.7,434.7 719.7,434.7 719.7,429.0 720.3,429.0 720.3,434.7 720.4,434.7 720.4,435.0 721.1,435.0 721.1,438.9 721.8,438.9 721.8,443.0 722.5,443.0 722.5,446.9 723.2,446.9 723.2,447.2 723.9,447.2 723.9,448.3 724.6,448.3 724.6,448.1 725.3,448.1 725.3,448.2 726.0,448.2 726.0,448.2 726.7,448.2 726.7,447.8 727.4,447.8 727.4,448.2 728.1,448.2 728.1,446.8 728.8,446.8 728.8,445.0 729.5,445.0 729.5,442.3 729.7,442.3 729.7,434.0 730.2,434.0 730.2,436.7 730.9,436.7 730.9,435.6 731.6,435.6 731.6,434.3 731.7,434.3 731.7,434.0 732.3,434.0 732.3,435.6 733.0,435.6 733.0,436.1 733.7,436.1 733.7,438.2 734.4,438.2 734.4,438.0 735.1,438.0 735.1,438.5 735.8,438.5 735.8,441.3 736.5,441.3 736.5,441.2 737.2,441.2 737.2,441.9 737.9,441.9 737.9,445.9 738.6,445.9 738.6,448.0 739.3,448.0 739.3,468.5 740.0,468.5 740.0,474.4 740.7,474.4 740.7,479.2 741.4,479.2 741.4,485.7 742.1,485.7 742.1,486.3 742.8,486.3 742.8,487.0 743.5,487.0 743.5,487.5 744.2,487.5 744.2,483.4 744.9,483.4 744.9,488.2 745.6,488.2 745.6,488.6 746.3,488.6 746.3,488.6 747.0,488.6 747.0,488.7 747.7,488.7 747.7,486.9 748.4,486.9 748.4,489.2 749.1,489.2 749.1,490.1 749.8,490.1 749.8,490.1 750.5,490.1 750.5,493.1 751.2,493.1 751.2,491.0 751.9,491.0 751.9,493.0 752.6,493.0 752.6,493.1 753.3,493.1 753.3,490.9 756.8,490.9 756.8,496.3 757.5,496.3 757.5,497.2 758.2,497.2 758.2,498.0 758.9,498.0 758.9,496.3 759.6,496.3 759.6,496.3 760.3,496.3 760.3,504.3 761.0,504.3 761.0,505.1 761.7,505.1 761.7,506.7 762.4,506.7 762.4,509.7 763.1,509.7 763.1,511.2 763.8,511.2 763.8,514.5 764.5,514.5 764.5,515.2 765.2,515.2 765.2,516.2 765.9,516.2 765.9,516.4 766.6,516.4 766.6,517.3 767.3,517.3 767.3,517.2 768.0,517.2 768.0,511.5 768.7,511.5 768.7,517.1 769.4,517.1 769.4,515.8 770.1,515.8 770.1,511.0 770.8,511.0 770.8,515.5 771.5,515.5 771.5,511.5 772.5,511.5 772.5,508.7 773.1,508.7 773.1,511.5 775.0,511.5 775.0,517.6 778.5,517.6 778.5,517.9 779.2,517.9 779.2,521.1 779.9,521.1 779.9,524.9 780.6,524.9 780.6,526.3 781.3,526.3 781.3,528.9 782.0,528.9 782.0,530.4 782.7,530.4 782.7,531.0 783.4,531.0 783.4,533.7 784.1,533.7 784.1,534.3 784.8,534.3 784.8,536.3 785.5,536.3 785.5,536.0 786.2,536.0 786.2,537.1 786.9,537.1 786.9,539.3 787.6,539.3 787.6,539.4 788.3,539.4 788.3,541.8 789.0,541.8 789.0,540.2 789.7,540.2 789.7,541.2 790.4,541.2 790.4,543.0 791.1,543.0 791.1,543.0 791.8,543.0 791.8,543.0 792.5,543.0 792.5,543.6 793.2,543.6 793.2,544.2 793.9,544.2 793.9,545.5 794.6,545.5 794.6,546.2 795.3,546.2 795.3,549.0 796.0,549.0 796.0,548.6 796.7,548.6 796.7,553.0 800.2,553.0 800.2,554.1 803.7,554.1 803.7,559.1 807.2,559.1 807.2,561.7 810.7,561.7 810.7,565.3 814.2,565.3 814.2,565.0 817.7,565.0 817.7,562.6 821.2,562.6 821.2,565.5 824.7,565.5 824.7,567.9 828.2,567.9 828.2,566.9 831.7,566.9 831.7,567.6 835.2,567.6 835.2,569.3 838.7,569.3 838.7,570.2 842.2,570.2 842.2,570.5 845.7,570.5 845.7,574.0 849.2,574.0 849.2,568.4 852.7,568.4 852.7,570.7 856.2,570.7 856.2,570.3 859.7,570.3 859.7,571.6 863.2,571.6 863.2,574.5 866.7,574.5 866.7,570.5 870.2,570.5 870.2,568.9 873.7,568.9 873.7,566.1 877.2,566.1 877.2,564.3 880.7,564.3 880.7,561.7 884.2,561.7 884.2,561.1 887.7,561.1 887.7,554.9 891.2,554.9 891.2,553.2 894.7,553.2 894.7,553.8 898.2,553.8 898.2,552.6 901.7,552.6 901.7,552.7 905.2,552.7 905.2,551.2 908.7,551.2 908.7,546.3 912.2,546.3 912.2,549.3 913.2,549.3 913.2,547.6 913.8,547.6 913.8,549.3 915.7,549.3 915.7,547.6 919.2,547.6 919.2,553.5 922.7,553.5 922.7,555.6 926.2,555.6 926.2,558.6 929.7,558.6 929.7,553.3 933.2,553.3 933.2,563.0 936.7,563.0 936.7,558.4 940.2,558.4 940.2,561.6 943.7,561.6 943.7,560.2 947.2,560.2 947.2,558.6 950.7,558.6 950.7,559.5 954.2,559.5 954.2,559.6 957.7,559.6 957.7,558.4 961.2,558.4 961.2,557.9 961.8,557.9 961.8,554.0 962.4,554.0 962.4,557.9 964.7,557.9 964.7,560.2 968.2,560.2 968.2,560.2 971.7,560.2 971.7,562.6 975.2,562.6 975.2,565.4 978.7,565.4 978.7,566.9 982.2,566.9 982.2,567.2 985.7,567.2 985.7,570.8 989.2,570.8 989.2,572.7 992.7,572.7 992.7,575.3 996.2,575.3 996.2,575.7 999.7,575.7 999.7,578.8 1003.2,578.8 1003.2,579.0 1006.7,579.0 1006.7,581.6 1010.2,581.6 1010.2,582.2 1013.7,582.2 1013.7,581.1 1017.2,581.1 1017.2,580.1 1020.7,580.1 1020.7,583.4 1024.2,583.4 1024.2,582.0 1027.7,582.0 1027.7,580.0 1031.2,580.0 1031.2,583.5 1034.7,583.5 1034.7,580.0 1038.2,580.0 1038.2,580.0 1041.7,580.0 1041.7,580.4 1045.2,580.4 1045.2,579.6 1048.7,579.6 1048.7,581.4 1052.2,581.4 1052.2,578.7 1055.7,578.7 1055.7,573.2 1059.2,573.2 1059.2,573.9 1059.7,573.9 1059.7,573.9 1062.7,573.9 1062.7,574.6 1066.2,574.6 1066.2,573.2 1069.7,573.2 1069.7,573.9 1073.2,573.9 1073.2,578.5 1076.7,578.5 1076.7,578.8 1080.2,578.8 1080.2,580.5 1083.7,580.5 1083.7,579.5 1087.2,579.5 1087.2,581.0 1090.7,581.0 1090.7,580.9 1094.2,580.9 1094.2,580.9 1097.7,580.9 1097.7,580.0 1101.2,580.0 1101.2,580.2 1104.7,580.2 1104.7,580.0 1108.2,580.0 1108.2,581.2 1111.7,581.2 1111.7,582.1 1115.2,582.1 1115.2,580.9 1118.7,580.9 1118.7,580.0 1122.2,580.0 1122.2,581.4 1125.7,581.4 1125.7,580.4 1129.2,580.4 1129.2,582.1 1132.7,582.1 1132.7,579.5 1136.2,579.5 1136.2,577.6 1139.7,577.6 1139.7,579.7 1143.2,579.7 1143.2,579.6 1146.7,579.6 1146.7,575.5 1150.2,575.5 1150.2,576.0 1153.7,576.0 1153.7,574.1 1157.2,574.1 1157.2,578.3 1160.7,578.3 1160.7,572.7 1164.2,572.7 1164.2,572.5 1167.7,572.5 1167.7,571.3 1171.2,571.3 1171.2,570.7 1174.7,570.7 1174.7,575.0 1178.2,575.0 1178.2,569.2 1181.7,569.2 1181.7,568.5 1185.2,568.5 1185.2,568.7 1188.7,568.7 1188.7,565.6 1192.2,565.6 1192.2,567.9 1195.7,567.9 1195.7,561.9 1199.2,561.9 1199.2,566.5 1202.7,566.5 1202.7,570.3 1205.0,570.3 1205.0,565.0 1205.6,565.0 1205.6,570.3 1206.2,570.3 1206.2,565.0 1208.5,565.0 1208.5,589.0 1206.2,589.0 1206.2,583.6 1205.6,583.6 1205.6,589.0 1205.0,589.0 1205.0,583.6 1202.7,583.6 1202.7,586.3 1199.2,586.3 1199.2,587.0 1195.7,587.0 1195.7,584.6 1192.2,584.6 1192.2,581.3 1188.7,581.3 1188.7,583.8 1185.2,583.8 1185.2,581.9 1181.7,581.9 1181.7,583.6 1178.2,583.6 1178.2,584.3 1174.7,584.3 1174.7,583.8 1171.2,583.8 1171.2,585.7 1167.7,585.7 1167.7,586.4 1164.2,586.4 1164.2,587.1 1160.7,587.1 1160.7,585.9 1157.2,585.9 1157.2,588.3 1157.0,588.3 1157.0,588.6 1156.4,588.6 1156.4,588.3 1153.7,588.3 1153.7,587.2 1150.2,587.2 1150.2,587.6 1146.7,587.6 1146.7,585.7 1143.2,585.7 1143.2,587.0 1139.7,587.0 1139.7,585.6 1136.2,585.6 1136.2,587.4 1132.7,587.4 1132.7,586.6 1129.2,586.6 1129.2,585.6 1125.7,585.6 1125.7,591.1 1122.2,591.1 1122.2,587.9 1118.7,587.9 1118.7,590.5 1115.2,590.5 1115.2,592.9 1111.7,592.9 1111.7,594.2 1108.2,594.2 1108.2,596.7 1107.7,596.7 1107.7,595.7 1104.7,595.7 1104.7,593.0 1101.2,593.0 1101.2,594.8 1097.7,594.8 1097.7,592.5 1094.2,592.5 1094.2,589.0 1090.7,589.0 1090.7,590.8 1087.2,590.8 1087.2,590.2 1083.7,590.2 1083.7,588.9 1080.2,588.9 1080.2,593.7 1076.7,593.7 1076.7,586.6 1073.2,586.6 1073.2,588.7 1069.7,588.7 1069.7,586.2 1066.2,586.2 1066.2,589.3 1062.7,589.3 1062.7,588.4 1059.2,588.4 1059.2,591.8 1055.7,591.8 1055.7,586.6 1052.2,586.6 1052.2,594.6 1048.7,594.6 1048.7,590.9 1045.2,590.9 1045.2,589.5 1043.5,589.5 1043.5,591.8 1042.9,591.8 1042.9,589.5 1041.7,589.5 1041.7,590.5 1038.2,590.5 1038.2,588.8 1034.7,588.8 1034.7,588.4 1031.2,588.4 1031.2,589.6 1027.7,589.6 1027.7,590.2 1024.2,590.2 1024.2,590.2 1020.7,590.2 1020.7,590.0 1017.2,590.0 1017.2,593.4 1013.7,593.4 1013.7,589.0 1011.1,589.0 1011.1,590.2 1010.5,590.2 1010.5,589.0 1010.2,589.0 1010.2,588.0 1006.7,588.0 1006.7,586.6 1003.2,586.6 1003.2,584.7 999.7,584.7 999.7,585.3 996.2,585.3 996.2,582.8 992.7,582.8 992.7,579.7 989.2,579.7 989.2,580.0 985.7,580.0 985.7,577.2 982.2,577.2 982.2,577.3 978.7,577.3 978.7,574.8 975.2,574.8 975.2,572.4 971.7,572.4 971.7,572.1 968.2,572.1 968.2,571.7 964.7,571.7 964.7,574.9 961.2,574.9 961.2,568.4 957.7,568.4 957.7,570.9 954.2,570.9 954.2,572.3 950.7,572.3 950.7,572.3 947.2,572.3 947.2,573.3 946.2,573.3 946.2,574.0 945.6,574.0 945.6,573.3 943.7,573.3 943.7,574.0 940.2,574.0 940.2,572.7 936.7,572.7 936.7,577.3 933.2,577.3 933.2,572.0 930.0,572.0 930.0,574.0 929.7,574.0 929.7,569.4 926.2,569.4 926.2,572.8 922.7,572.8 922.7,569.2 919.2,569.2 919.2,565.3 915.7,565.3 915.7,561.8 912.2,561.8 912.2,563.1 908.7,563.1 908.7,562.2 905.2,562.2 905.2,565.9 901.7,565.9 901.7,565.8 898.2,565.8 898.2,566.9 894.7,566.9 894.7,570.2 891.2,570.2 891.2,569.5 887.7,569.5 887.7,572.8 884.2,572.8 884.2,571.7 880.7,571.7 880.7,576.2 877.2,576.2 877.2,578.4 873.7,578.4 873.7,581.1 870.2,581.1 870.2,581.8 866.7,581.8 866.7,584.6 865.1,584.6 865.1,587.0 864.6,587.0 864.6,584.6 863.2,584.6 863.2,582.6 859.7,582.6 859.7,586.5 856.2,586.5 856.2,584.5 852.7,584.5 852.7,583.6 849.2,583.6 849.2,583.7 845.7,583.7 845.7,581.9 842.2,581.9 842.2,584.4 838.7,584.4 838.7,583.5 835.2,583.5 835.2,579.1 832.7,579.1 832.7,585.4 832.1,585.4 832.1,579.1 831.7,579.1 831.7,583.1 828.2,583.1 828.2,578.7 824.7,578.7 824.7,579.3 821.2,579.3 821.2,577.1 817.7,577.1 817.7,576.9 814.2,576.9 814.2,580.2 810.7,580.2 810.7,573.6 807.2,573.6 807.2,571.1 803.7,571.1 803.7,567.1 800.2,567.1 800.2,566.2 796.7,566.2 796.7,568.5 796.0,568.5 796.0,562.5 795.3,562.5 795.3,561.4 794.6,561.4 794.6,560.0 793.9,560.0 793.9,561.1 793.2,561.1 793.2,558.6 792.5,558.6 792.5,557.3 791.8,557.3 791.8,557.1 791.1,557.1 791.1,557.1 790.4,557.1 790.4,556.8 789.7,556.8 789.7,556.0 789.0,556.0 789.0,556.3 788.3,556.3 788.3,556.4 787.6,556.4 787.6,555.8 786.9,555.8 786.9,555.7 786.2,555.7 786.2,554.9 785.5,554.9 785.5,553.6 784.8,553.6 784.8,551.1 784.1,551.1 784.1,545.4 783.9,545.4 783.9,559.4 783.4,559.4 783.4,542.6 782.7,542.6 782.7,539.0 782.0,539.0 782.0,537.9 781.3,537.9 781.3,538.1 780.6,538.1 780.6,537.8 779.9,537.8 779.9,537.0 779.2,537.0 779.2,541.0 778.5,541.0 778.5,536.2 775.0,536.2 775.0,537.9 771.5,537.9 771.5,542.0 770.8,542.0 770.8,540.6 770.1,540.6 770.1,538.4 769.4,538.4 769.4,539.0 769.1,539.0 769.1,539.2 768.7,539.2 768.7,538.5 768.0,538.5 768.0,538.3 767.3,538.3 767.3,537.4 766.6,537.4 766.6,537.2 765.9,537.2 765.9,536.8 765.2,536.8 765.2,535.5 764.5,535.5 764.5,532.3 763.8,532.3 763.8,529.2 763.1,529.2 763.1,525.6 762.4,525.6 762.4,523.6 761.7,523.6 761.7,521.4 761.0,521.4 761.0,521.3 760.3,521.3 760.3,525.1 759.6,525.1 759.6,520.8 758.9,520.8 758.9,519.5 758.2,519.5 758.2,519.8 757.5,519.8 757.5,522.6 756.8,522.6 756.8,516.2 753.3,516.2 753.3,515.5 752.6,515.5 752.6,515.0 751.9,515.0 751.9,514.2 751.2,514.2 751.2,515.5 750.5,515.5 750.5,510.0 749.8,510.0 749.8,510.7 749.1,510.7 749.1,513.9 748.4,513.9 748.4,512.6 747.7,512.6 747.7,505.3 747.0,505.3 747.0,506.6 746.3,506.6 746.3,505.6 745.6,505.6 745.6,506.1 744.9,506.1 744.9,501.8 744.2,501.8 744.2,498.0 743.5,498.0 743.5,495.9 742.8,495.9 742.8,493.9 742.1,493.9 742.1,490.0 741.4,490.0 741.4,487.9 740.7,487.9 740.7,484.2 740.0,484.2 740.0,482.2 739.3,482.2 739.3,483.8 738.6,483.8 738.6,476.7 737.9,476.7 737.9,473.9 737.2,473.9 737.2,471.3 736.5,471.3 736.5,469.6 735.8,469.6 735.8,469.8 735.1,469.8 735.1,467.5 734.4,467.5 734.4,467.6 733.7,467.6 733.7,466.8 733.0,466.8 733.0,465.1 732.3,465.1 732.3,465.8 731.6,465.8 731.6,465.0 730.9,465.0 730.9,465.0 730.2,465.0 730.2,464.4 729.5,464.4 729.5,464.8 728.8,464.8 728.8,465.4 728.1,465.4 728.1,465.8 727.4,465.8 727.4,467.6 726.7,467.6 726.7,469.8 726.0,469.8 726.0,471.5 725.3,471.5 725.3,474.6 724.6,474.6 724.6,477.6 723.9,477.6 723.9,485.4 723.2,485.4 723.2,485.8 722.5,485.8 722.5,486.8 721.8,486.8 721.8,486.3 721.1,486.3 721.1,488.3 720.4,488.3 720.4,493.3 719.7,493.3 719.7,493.3 719.0,493.3 719.0,493.7 718.3,493.7 718.3,499.8 717.6,499.8 717.6,502.4 716.9,502.4 716.9,507.4 716.2,507.4 716.2,513.9 715.5,513.9 715.5,512.5 714.8,512.5 714.8,521.3 714.1,521.3 714.1,522.5 713.4,522.5 713.4,529.9 712.7,529.9 712.7,533.3 712.0,533.3 712.0,536.6 711.3,536.6 711.3,541.5 710.6,541.5 710.6,543.1 709.9,543.1 709.9,548.3 709.2,548.3 709.2,547.8 708.5,547.8 708.5,549.7 707.8,549.7 707.8,553.7 707.1,553.7 707.1,555.6 706.4,555.6 706.4,559.4 705.7,559.4 705.7,561.0 705.0,561.0 705.0,561.4 701.5,561.4 701.5,564.5 698.0,564.5 698.0,568.1 697.3,568.1 697.3,568.8 696.6,568.8 696.6,570.7 695.9,570.7 695.9,569.7 695.2,569.7 695.2,571.1 694.5,571.1 694.5,571.6 693.8,571.6 693.8,570.6 693.1,570.6 693.1,573.2 692.4,573.2 692.4,574.9 691.7,574.9 691.7,573.9 691.0,573.9 691.0,573.4 690.3,573.4 690.3,574.1 689.6,574.1 689.6,574.5 688.9,574.5 688.9,573.8 688.2,573.8 688.2,575.1 687.5,575.1 687.5,574.7 686.8,574.7 686.8,574.3 683.3,574.3 683.3,574.5 679.8,574.5 679.8,576.7 676.3,576.7 676.3,577.4 672.8,577.4 672.8,576.0 669.3,576.0 669.3,576.9 665.8,576.9 665.8,580.9 662.3,580.9 662.3,580.2 658.8,580.2 658.8,580.9 655.3,580.9 655.3,583.6 651.8,583.6 651.8,582.2 648.3,582.2 648.3,579.0 644.8,579.0 644.8,583.1 641.3,583.1 641.3,585.2 637.8,585.2 637.8,581.5 634.7,581.5 634.7,584.0 634.3,584.0 634.3,580.8 630.8,580.8 630.8,586.8 627.3,586.8 627.3,583.1 623.8,583.1 623.8,581.9 620.3,581.9 620.3,580.6 616.8,580.6 616.8,582.5 613.3,582.5 613.3,581.2 609.8,581.2 609.8,582.6 606.3,582.6 606.3,582.6 602.8,582.6 602.8,580.8 599.3,580.8 599.3,581.8 595.8,581.8 595.8,581.0 592.3,581.0 592.3,580.0 588.8,580.0 588.8,583.7 587.8,583.7 587.8,584.0 587.2,584.0 587.2,583.7 585.3,583.7 585.3,580.7 581.8,580.7 581.8,585.3 578.3,585.3 578.3,582.4 574.8,582.4 574.8,582.5 571.3,582.5 571.3,583.5 567.8,583.5 567.8,576.3 564.3,576.3 564.3,577.1 560.8,577.1 560.8,578.7 557.3,578.7 557.3,578.6 553.8,578.6 553.8,582.2 550.3,582.2 550.3,575.3 546.8,575.3 546.8,576.1 543.3,576.1 543.3,575.3 539.8,575.3 539.8,578.4 536.3,578.4 536.3,574.7 532.8,574.7 532.8,573.9 529.3,573.9 529.3,575.6 525.8,575.6 525.8,575.7 522.3,575.7 522.3,569.1 518.8,569.1 518.8,568.4 515.3,568.4 515.3,569.9 514.6,569.9 514.6,567.2 513.9,567.2 513.9,566.7 513.2,566.7 513.2,565.5 512.5,565.5 512.5,564.8 511.8,564.8 511.8,565.9 511.1,565.9 511.1,563.3 510.4,563.3 510.4,565.7 509.7,565.7 509.7,558.4 509.0,558.4 509.0,556.5 508.3,556.5 508.3,555.1 507.6,555.1 507.6,551.9 506.9,551.9 506.9,550.3 506.2,550.3 506.2,547.0 505.5,547.0 505.5,545.2 504.8,545.2 504.8,543.5 504.1,543.5 504.1,539.8 503.4,539.8 503.4,536.7 502.7,536.7 502.7,529.9 502.0,529.9 502.0,520.0 501.3,520.0 501.3,509.9 500.6,509.9 500.6,503.2 499.9,503.2 499.9,503.1 499.2,503.1 499.2,490.0 498.5,490.0 498.5,485.0 497.8,485.0 497.8,480.0 497.1,480.0 497.1,470.2 496.4,470.2 496.4,462.0 495.7,462.0 495.7,450.2 495.0,450.2 495.0,447.5 494.3,447.5 494.3,445.0 493.6,445.0 493.6,440.0 492.9,440.0 492.9,438.3 492.2,438.3 492.2,436.9 491.5,436.9 491.5,436.7 490.8,436.7 490.8,436.9 490.1,436.9 490.1,435.5 489.4,435.5 489.4,437.0 488.7,437.0 488.7,437.2 488.0,437.2 488.0,440.0 487.3,440.0 487.3,439.9 486.6,439.9 486.6,444.5 485.9,444.5 485.9,453.5 485.2,453.5 485.2,457.8 484.5,457.8 484.5,465.7 483.8,465.7 483.8,471.2 483.1,471.2 483.1,475.8 482.4,475.8 482.4,486.6 481.7,486.6 481.7,495.0 481.0,495.0 481.0,500.6 480.3,500.6 480.3,510.0 479.6,510.0 479.6,514.9 478.9,514.9 478.9,525.0 478.8,525.0 478.8,542.0 478.2,542.0 478.2,525.0 478.2,525.0 478.2,528.3 477.5,528.3 477.5,531.6 476.8,531.6 476.8,538.3 476.1,538.3 476.1,539.6 475.4,539.6 475.4,540.8 474.7,540.8 474.7,543.5 474.0,543.5 474.0,546.7 473.3,546.7 473.3,544.0 472.6,544.0 472.6,544.8 471.9,544.8 471.9,545.2 471.2,545.2 471.2,548.7 470.5,548.7 470.5,548.2 469.8,548.2 469.8,549.0 469.1,549.0 469.1,550.0 468.4,550.0 468.4,550.9 467.7,550.9 467.7,556.8 467.0,556.8 467.0,552.6 466.3,552.6 466.3,553.8 466.1,553.8 466.1,555.4 465.6,555.4 465.6,554.5 464.9,554.5 464.9,553.9 464.2,553.9 464.2,554.5 463.5,554.5 463.5,552.3 460.0,552.3 460.0,556.6 456.5,556.6 456.5,552.3 453.0,552.3 453.0,552.4 449.5,552.4 449.5,555.4 449.1,555.4 449.1,553.5 446.0,553.5 446.0,553.7 445.3,553.7 445.3,554.3 444.6,554.3 444.6,552.6 444.2,552.6 444.2,555.4 443.9,555.4 443.9,549.0 443.2,549.0 443.2,549.2 442.5,549.2 442.5,547.4 441.8,547.4 441.8,547.0 441.1,547.0 441.1,546.1 440.4,546.1 440.4,546.3 439.7,546.3 439.7,543.5 439.0,543.5 439.0,544.7 438.3,544.7 438.3,540.9 434.8,540.9 434.8,540.5 434.1,540.5 434.1,539.7 433.4,539.7 433.4,539.3 432.7,539.3 432.7,537.8 432.0,537.8 432.0,538.2 431.3,538.2 431.3,540.0 430.6,540.0 430.6,535.5 429.9,535.5 429.9,533.8 429.2,533.8 429.2,532.2 428.5,532.2 428.5,529.9 427.8,529.9 427.8,529.0 427.1,529.0 427.1,526.4 426.4,526.4 426.4,527.3 425.7,527.3 425.7,518.5 425.0,518.5 425.0,514.8 424.3,514.8 424.3,512.0 423.6,512.0 423.6,508.5 422.9,508.5 422.9,507.6 422.2,507.6 422.2,504.4 421.5,504.4 421.5,504.1 420.8,504.1 420.8,503.1 420.1,503.1 420.1,503.2 419.4,503.2 419.4,502.9 418.7,502.9 418.7,504.6 418.0,504.6 418.0,505.9 414.5,505.9 414.5,503.2 413.8,503.2 413.8,504.8 413.1,504.8 413.1,505.2 412.4,505.2 412.4,505.6 411.7,505.6 411.7,505.8 411.0,505.8 411.0,507.0 410.3,507.0 410.3,508.0 409.6,508.0 409.6,508.7 408.9,508.7 408.9,512.2 408.2,512.2 408.2,513.2 407.5,513.2 407.5,514.4 406.8,514.4 406.8,518.7 406.1,518.7 406.1,522.5 405.9,522.5 405.9,538.0 405.4,538.0 405.4,528.0 404.7,528.0 404.7,529.4 404.0,529.4 404.0,533.4 403.3,533.4 403.3,526.9 399.8,526.9 399.8,527.7 396.3,527.7 396.3,526.9 392.8,526.9 392.8,526.4 389.3,526.4 389.3,522.6 385.8,522.6 385.8,521.8 385.1,521.8 385.1,522.3 384.4,522.3 384.4,523.0 383.7,523.0 383.7,523.5 383.0,523.5 383.0,523.7 382.3,523.7 382.3,523.2 381.6,523.2 381.6,523.6 380.9,523.6 380.9,524.9 380.2,524.9 380.2,524.5 379.5,524.5 379.5,523.5 378.8,523.5 378.8,524.8 378.1,524.8 378.1,524.2 377.4,524.2 377.4,525.6 373.9,525.6 373.9,521.3 370.4,521.3 370.4,518.2 366.9,518.2 366.9,518.0 363.4,518.0 363.4,518.7 359.9,518.7 359.9,515.9 356.4,515.9 356.4,516.6 352.9,516.6 352.9,515.0 349.4,515.0 349.4,514.5 348.7,514.5 348.7,515.2 348.0,515.2 348.0,510.3 347.3,510.3 347.3,510.4 346.6,510.4 346.6,506.9 345.9,506.9 345.9,505.6 345.2,505.6 345.2,504.3 344.5,504.3 344.5,502.3 343.8,502.3 343.8,502.1 343.1,502.1 343.1,499.7 342.4,499.7 342.4,500.5 341.7,500.5 341.7,496.2 341.0,496.2 341.0,495.0 340.3,495.0 340.3,495.1 339.6,495.1 339.6,492.9 338.9,492.9 338.9,494.7 338.2,494.7 338.2,489.9 337.5,489.9 337.5,489.8 336.8,489.8 336.8,488.3 336.1,488.3 336.1,488.2 335.4,488.2 335.4,488.0 334.7,488.0 334.7,486.2 334.0,486.2 334.0,486.7 333.3,486.7 333.3,486.2 332.6,486.2 332.6,484.8 331.9,484.8 331.9,482.5 331.2,482.5 331.2,481.7 330.5,481.7 330.5,480.4 329.8,480.4 329.8,480.9 329.1,480.9 329.1,479.3 328.4,479.3 328.4,478.6 327.7,478.6 327.7,477.1 327.0,477.1 327.0,476.4 326.3,476.4 326.3,473.7 325.6,473.7 325.6,473.6 324.9,473.6 324.9,472.6 324.2,472.6 324.2,471.7 323.5,471.7 323.5,471.1 322.8,471.1 322.8,470.0 322.1,470.0 322.1,468.8 321.4,468.8 321.4,467.7 320.7,467.7 320.7,464.5 320.0,464.5 320.0,463.3 319.3,463.3 319.3,461.8 318.6,461.8 318.6,457.8 317.9,457.8 317.9,456.9 317.2,456.9 317.2,453.1 316.5,453.1 316.5,451.6 315.8,451.6 315.8,449.6 315.1,449.6 315.1,446.8 314.4,446.8 314.4,445.0 313.7,445.0 313.7,440.3 313.0,440.3 313.0,438.1 312.3,438.1 312.3,436.6 311.6,436.6 311.6,433.8 310.9,433.8 310.9,431.7 310.2,431.7 310.2,429.1 309.5,429.1 309.5,425.8 308.8,425.8 308.8,422.6 308.1,422.6 308.1,417.0 307.4,417.0 307.4,413.9 306.7,413.9 306.7,407.5 306.0,407.5 306.0,404.2 305.3,404.2 305.3,400.7 304.6,400.7 304.6,394.6 303.9,394.6 303.9,392.3 303.2,392.3 303.2,386.8 302.5,386.8 302.5,385.0 301.8,385.0 301.8,386.1 301.1,386.1 301.1,375.5 300.4,375.5 300.4,370.8 299.7,370.8 299.7,361.6 299.0,361.6 299.0,355.5 298.3,355.5 298.3,349.0 297.6,349.0 297.6,340.2 296.9,340.2 296.9,329.0 296.2,329.0 296.2,315.5 295.5,315.5 295.5,309.5 294.8,309.5 294.8,305.5 294.1,305.5 294.1,291.1 293.4,291.1 293.4,283.0 292.7,283.0 292.7,281.6 292.0,281.6 292.0,278.1 291.3,278.1 291.3,276.4 290.6,276.4 290.6,274.8 289.9,274.8 289.9,274.3 289.2,274.3 289.2,273.7 288.5,273.7 288.5,273.4 287.8,273.4 287.8,277.7 287.1,277.7 287.1,272.4 286.4,272.4 286.4,272.1 285.7,272.1 285.7,271.0 282.2,271.0 282.2,263.8 278.7,263.8 278.7,267.9 278.0,267.9 278.0,270.0 277.3,270.0 277.3,270.7 276.6,270.7 276.6,274.1 275.9,274.1 275.9,271.1 275.2,271.1 275.2,271.7 274.5,271.7 274.5,271.6 273.8,271.6 273.8,273.3 273.1,273.3 273.1,275.0 272.4,275.0 272.4,278.5 271.7,278.5 271.7,280.2 271.0,280.2 271.0,281.4 270.3,281.4 270.3,285.9 269.6,285.9 269.6,287.9 268.9,287.9 268.9,292.2 268.2,292.2 268.2,295.0 267.5,295.0 267.5,297.3 266.8,297.3 266.8,305.0 266.1,305.0 266.1,309.7 265.4,309.7 265.4,322.8 264.7,322.8 264.7,322.0 264.0,322.0 264.0,326.0 263.3,326.0 263.3,336.0 262.6,336.0 262.6,335.0 261.9,335.0 261.9,338.7 261.2,338.7 261.2,339.7 260.5,339.7 260.5,339.8 259.8,339.8 259.8,342.7 259.1,342.7 259.1,344.0 258.4,344.0 258.4,345.8 257.7,345.8 257.7,351.4 257.0,351.4 257.0,349.1 256.3,349.1 256.3,350.0 255.6,350.0 255.6,353.2 254.9,353.2 254.9,353.0 254.2,353.0 254.2,356.6 253.5,356.6 253.5,357.9 252.8,357.9 252.8,362.8 252.1,362.8 252.1,363.2 251.4,363.2 251.4,367.5 250.7,367.5 250.7,366.1 250.0,366.1 250.0,369.8 249.3,369.8 249.3,371.6 248.6,371.6 248.6,374.6 248.5,374.6 248.5,379.0 247.9,379.0 247.9,374.6 247.9,374.6 247.9,372.5 247.2,372.5 247.2,373.3 246.5,373.3 246.5,371.6 245.8,371.6 245.8,374.4 245.1,374.4 245.1,367.5 244.4,367.5 244.4,366.4 243.7,366.4 243.7,370.6 243.0,370.6 243.0,366.5 242.3,366.5 242.3,366.4 241.6,366.4 241.6,364.6 240.9,364.6 240.9,366.3 240.2,366.3 240.2,365.7 239.5,365.7 239.5,363.9 238.8,363.9 238.8,366.5 238.1,366.5 238.1,366.5 237.4,366.5 237.4,376.0 236.7,376.0 236.7,370.2 236.0,370.2 236.0,372.6 235.6,372.6 235.6,380.0 235.3,380.0 235.3,378.0 234.6,378.0 234.6,377.2 233.9,377.2 233.9,378.6 233.2,378.6 233.2,380.0 232.5,380.0 232.5,379.5 231.8,379.5 231.8,379.1 231.1,379.1 231.1,380.0 230.4,380.0 230.4,380.5 229.7,380.5 229.7,380.9 229.0,380.9 229.0,382.5 228.3,382.5 228.3,386.4 227.6,386.4 227.6,380.4 227.4,380.4 227.4,396.5 226.9,396.5 226.9,377.9 226.2,377.9 226.2,375.4 225.5,375.4 225.5,375.2 224.8,375.2 224.8,376.5 224.1,376.5 224.1,374.5 223.4,374.5 223.4,373.8 222.7,373.8 222.7,373.0 219.2,373.0 219.2,373.0 218.5,373.0 218.5,372.7 217.8,372.7 217.8,373.0 217.1,373.0 217.1,372.1 216.4,372.1 216.4,371.4 215.7,371.4 215.7,371.4 215.0,371.4 215.0,373.0 214.3,373.0 214.3,373.0 213.6,373.0 213.6,372.7 212.9,372.7 212.9,372.6 212.2,372.6 212.2,371.3 211.5,371.3 211.5,376.7 210.8,376.7 210.8,372.5 210.1,372.5 210.1,370.2 209.4,370.2 209.4,372.2 208.7,372.2 208.7,378.2 208.0,378.2 208.0,369.9 207.3,369.9 207.3,372.6 206.6,372.6 206.6,372.2 205.9,372.2 205.9,375.0 205.2,375.0 205.2,372.4 204.5,372.4 204.5,368.8 203.8,368.8 203.8,380.0 203.4,380.0 203.4,370.4 203.1,370.4 203.1,367.2 202.4,367.2 202.4,369.9 201.7,369.9 201.7,365.6 201.0,365.6 201.0,366.9 200.3,366.9 200.3,363.9 199.6,363.9 199.6,363.3 198.9,363.3 198.9,362.6 198.2,362.6 198.2,357.6 194.7,357.6 194.7,353.0 191.2,353.0 191.2,352.9 190.5,352.9 190.5,355.1 189.8,355.1 189.8,355.7 189.1,355.7 189.1,354.3 188.4,354.3 188.4,353.8 187.7,353.8 187.7,352.0 187.0,352.0 187.0,353.5 186.3,353.5 186.3,353.5 185.6,353.5 185.6,352.2 184.9,352.2 184.9,352.6 184.2,352.6 184.2,352.2 183.5,352.2 183.5,350.8 182.8,350.8 182.8,351.3 182.1,351.3 182.1,349.1 181.4,349.1 181.4,352.3 180.7,352.3 180.7,350.8 180.0,350.8 180.0,352.8 179.3,352.8 179.3,351.5 178.6,351.5 178.6,351.9 177.9,351.9 177.9,350.6 177.2,350.6 177.2,349.6 177.0,349.6 177.0,354.3 176.5,354.3 176.5,349.6 175.8,349.6 175.8,346.6 175.1,346.6 175.1,345.3 174.4,345.3 174.4,345.2 173.7,345.2 173.7,342.6 173.0,342.6Z" fill="#02ff12" stroke="#02ff12" stroke-width="7.0" stroke-linejoin="round"/>
<text id="title" transform="translate(23,50.3) scale(0.984,1)" font-size="67.8" font-weight="bold">Grazing Angle X-Ray Diffraction Pattern</text><text id="xl" transform="translate(383,1093.5) scale(0.996,1)" font-size="67" font-weight="bold">Two Theta (Degree)</text><text id="yl" transform="translate(53.5,715) rotate(-90) scale(0.987,1)" font-size="67" font-weight="bold">Intensity (cps)</text><text id="t20" transform="translate(166.5,1019.8) scale(1.012,1)" font-size="67" text-anchor="middle">20</text><text id="t30" transform="translate(341.83000000000004,1019.8) scale(1.012,1)" font-size="67" text-anchor="middle">30</text><text id="t40" transform="translate(513.6600000000001,1019.8) scale(1.012,1)" font-size="67" text-anchor="middle">40</text><text id="t50" transform="translate(689.49,1019.8) scale(1.012,1)" font-size="67" text-anchor="middle">50</text><text id="t60" transform="translate(863.32,1019.8) scale(1.012,1)" font-size="67" text-anchor="middle">60</text><text id="t70" transform="translate(1037.15,1019.8) scale(1.012,1)" font-size="67" text-anchor="middle">70</text><text id="t80" transform="translate(1210.98,1019.8) scale(1.012,1)" font-size="67" text-anchor="middle">80</text><g id="a110"><text transform="translate(225.54,196.3) scale(1.0,1)" font-size="63.5">(</text><path d="M763,0H583V1147C538,1104 478,1061 404,1018C330,975 270,945 223,928V1102C306,1141 381,1188 447,1245C513,1302 565,1376 599,1466H763Z" transform="translate(248.76,196.3) scale(0.03015,-0.03174)"/><path d="M763,0H583V1147C538,1104 478,1061 404,1018C330,975 270,945 223,928V1102C306,1141 381,1188 447,1245C513,1302 565,1376 599,1466H763Z" transform="translate(286.70,196.3) scale(0.03015,-0.03174)"/><text transform="translate(323.45,196.3) scale(0.95,1)" font-size="67">0</text><text transform="translate(362.11,196.3) scale(1.0,1)" font-size="63.5">)</text></g><g id="a101"><text transform="translate(329.99,463.2) scale(1.0,1)" font-size="63.5">(</text><path d="M763,0H583V1147C538,1104 478,1061 404,1018C330,975 270,945 223,928V1102C306,1141 381,1188 447,1245C513,1302 565,1376 599,1466H763Z" transform="translate(353.21,463.2) scale(0.03015,-0.03174)"/><text transform="translate(389.95,463.2) scale(0.95,1)" font-size="67">0</text><path d="M763,0H583V1147C538,1104 478,1061 404,1018C330,975 270,945 223,928V1102C306,1141 381,1188 447,1245C513,1302 565,1376 599,1466H763Z" transform="translate(429.10,463.2) scale(0.03015,-0.03174)"/><text transform="translate(466.56,463.2) scale(1.0,1)" font-size="63.5">)</text></g><g id="a200"><text transform="translate(428.39,371.5) scale(1.0,1)" font-size="63.5">(</text><text transform="translate(450.61,371.5) scale(0.95,1)" font-size="67">2</text><text transform="translate(488.35,371.5) scale(0.95,1)" font-size="67">0</text><text transform="translate(526.30,371.5) scale(0.95,1)" font-size="67">0</text><text transform="translate(564.96,371.5) scale(1.0,1)" font-size="63.5">)</text></g><g id="a211"><text transform="translate(667.19,420.4) scale(1.0,1)" font-size="63.5">(</text><text transform="translate(689.41,420.4) scale(0.95,1)" font-size="67">2</text><path d="M763,0H583V1147C538,1104 478,1061 404,1018C330,975 270,945 223,928V1102C306,1141 381,1188 447,1245C513,1302 565,1376 599,1466H763Z" transform="translate(728.35,420.4) scale(0.03015,-0.03174)"/><path d="M763,0H583V1147C538,1104 478,1061 404,1018C330,975 270,945 223,928V1102C306,1141 381,1188 447,1245C513,1302 565,1376 599,1466H763Z" transform="translate(766.30,420.4) scale(0.03015,-0.03174)"/><text transform="translate(803.76,420.4) scale(1.0,1)" font-size="63.5">)</text></g><text id="l600" transform="translate(991.6,550.5) scale(0.995,1)" font-size="68">600</text><text id="l600c" transform="translate(1147.6,550.5) scale(0.995,1)" font-size="68">C</text><text id="l400" transform="translate(988.8,748.2) scale(0.995,1)" font-size="68">400</text><text id="l400c" transform="translate(1144.1,748.2) scale(0.995,1)" font-size="68">C</text><text id="lna" transform="translate(895.2,872) scale(1.03,1)" font-size="65">No anneal</text><ellipse cx="1115.1" cy="505.6" rx="9.9" ry="10.4" fill="none" stroke="#000" stroke-width="2.8"/><ellipse cx="1111.5" cy="703.6" rx="9.9" ry="10.4" fill="none" stroke="#000" stroke-width="2.8"/></g></svg>
</body></html>
